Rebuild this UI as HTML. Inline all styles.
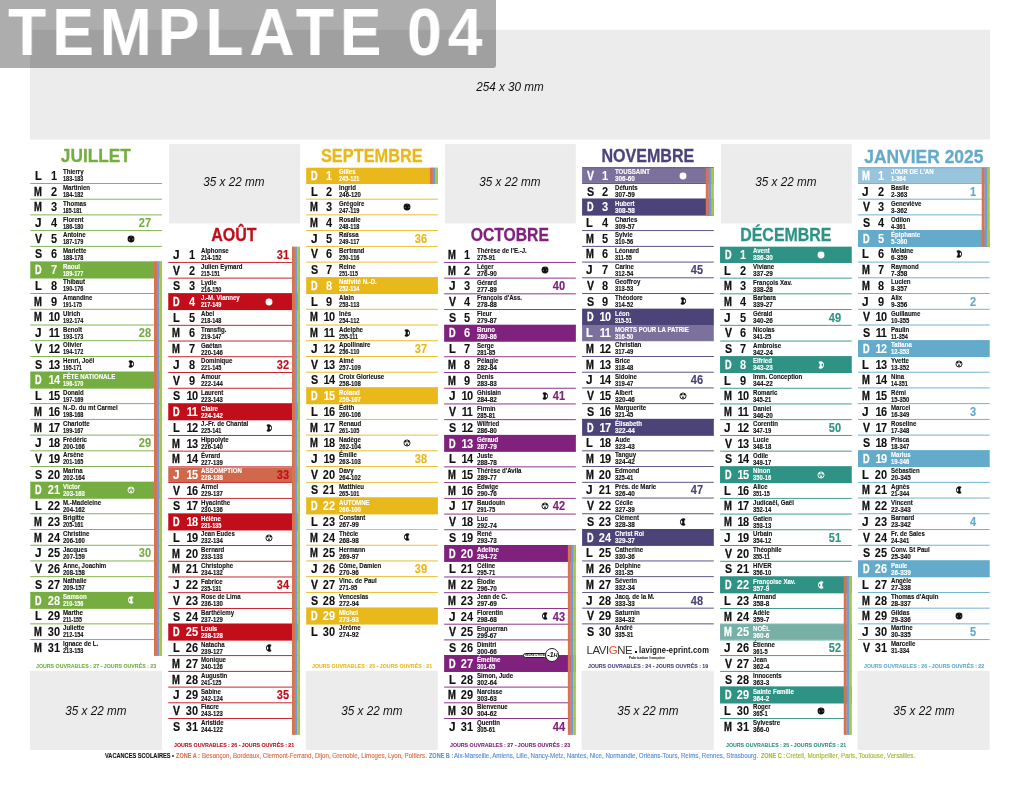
<!DOCTYPE html>
<html lang="fr"><head><meta charset="utf-8"><title>Template 04</title>
<style>
*{margin:0;padding:0;box-sizing:border-box}
html,body{width:1020px;height:786px;background:#fff;overflow:hidden}
body{position:relative;font-family:"Liberation Sans",sans-serif;color:#111}
#pg{position:absolute;left:0;top:0;width:1020px;height:786px;will-change:transform}
.g{position:absolute;background:#ececec}
.gl{position:absolute;font-style:italic;font-size:13px;line-height:14px;transform:scaleX(.9);text-align:center;color:#111;white-space:nowrap}
.m{position:absolute;width:131.7px}
.mt{position:absolute;left:-20px;width:171.7px;text-align:center;font-weight:bold;font-size:18.75px;line-height:20px;white-space:nowrap;transform:scaleX(.92);-webkit-text-stroke:.3px currentColor}
.r{position:absolute;left:0;width:131.7px;height:15.73px}
.ln{position:absolute;left:0;width:131.7px;height:1px}
.fl{position:absolute;left:0;width:131.7px}
.d,.n,.w{position:absolute;top:1.15px;width:24px;text-align:center;font-weight:bold;font-size:13.1px;line-height:14px;transform:scaleX(0.84);white-space:nowrap;-webkit-text-stroke:.15px currentColor}
.d{text-align:left;transform-origin:0 0}
.n{left:11.3px;-webkit-text-stroke-width:.05px}
.w{left:102.7px}
.t{position:absolute;left:32.6px;top:0.62px;font-weight:bold;font-size:7.0px;line-height:7px;white-space:nowrap;transform-origin:0 0;transform:scaleX(0.868);-webkit-text-stroke:.12px currentColor}
.t i{font-style:normal;display:block;transform-origin:0 0;transform:scaleX(0.96)}
.x{color:#fff}
.mo{position:absolute;left:97.2px;top:3.9px;width:8px;height:8px;overflow:visible}
.s1,.s2,.s3{position:absolute}
.s1{left:123.7px;width:2.9px;background:#dc714b}
.s2{left:126.6px;width:2.4px;background:#6a9ddb}
.s3{left:129px;width:2.7px;background:#aec63f}
.ft{position:absolute;font-weight:bold;font-size:6px;line-height:7px;white-space:nowrap;transform-origin:0 0;-webkit-text-stroke:.1px currentColor}
</style></head><body><div id="pg">
<svg width="0" height="0" style="position:absolute"><defs>
<symbol id="mn" viewBox="-4 -4 8 8"><circle r="3.45" fill="currentColor"/><ellipse cx="-1.7" cy=".4" rx=".45" ry=".9" fill="#fff" opacity=".45"/><ellipse cx="1.9" cy=".2" rx=".45" ry=".9" fill="#fff" opacity=".45"/><path d="M-.3-3.2L.6-3.2L.2-1.2Z" fill="#fff" opacity=".35"/></symbol>
<symbol id="mo" viewBox="-4 -4 8 8"><circle r="3.05" fill="none" stroke="currentColor" stroke-width=".9"/><circle cx="-1.3" cy="-1.5" r=".95" fill="currentColor"/><circle cx="1.4" cy="-1.5" r=".95" fill="currentColor"/><path d="M-.5,0.2L.5,.2L1.4,2.6L-1.4,2.6Z" fill="currentColor" opacity=".8"/></symbol>
<symbol id="mf" viewBox="-4 -4 8 8"><path fill-rule="evenodd" d="M-2.6-3.1A3.65 3.65 0 1 1-2.6 3.1Q.2 0-2.6-3.1ZM1.45-1.6A.8 1.6 0 1 0 1.45 1.6A.8 1.6 0 1 0 1.45-1.6Z" fill="currentColor"/></symbol>
<symbol id="ml" viewBox="-4 -4 8 8"><path fill-rule="evenodd" d="M2.6-3.1A3.65 3.65 0 1 0 2.6 3.1Q-.2 0 2.6-3.1ZM-1.45-1.6A.8 1.6 0 1 1-1.45 1.6A.8 1.6 0 1 1-1.45-1.6Z" fill="currentColor"/></symbol>
</defs></svg>
<svg width="1020" height="786" viewBox="0 0 1020 786" style="position:absolute;left:0;top:0"><rect x="30" y="29.8" width="960.1" height="109.7" fill="#ececec"/><rect x="29.9" y="670.8" width="132" height="79.1" fill="#ececec"/><rect x="30.3" y="182.98" width="131.7" height="0.9" fill="#76ad40"/><rect x="30.3" y="198.71" width="131.7" height="0.9" fill="#76ad40"/><rect x="30.3" y="214.44" width="131.7" height="0.9" fill="#76ad40"/><rect x="30.3" y="230.17" width="131.7" height="0.9" fill="#76ad40"/><rect x="30.3" y="245.9" width="131.7" height="0.9" fill="#76ad40"/><rect x="30.3" y="261.63" width="131.7" height="0.9" fill="#76ad40"/><rect x="30.3" y="277.36" width="131.7" height="0.9" fill="#76ad40"/><rect x="30.3" y="293.09" width="131.7" height="0.9" fill="#76ad40"/><rect x="30.3" y="308.82" width="131.7" height="0.9" fill="#76ad40"/><rect x="30.3" y="324.55" width="131.7" height="0.9" fill="#76ad40"/><rect x="30.3" y="340.28" width="131.7" height="0.9" fill="#76ad40"/><rect x="30.3" y="356.01" width="131.7" height="0.9" fill="#76ad40"/><rect x="30.3" y="371.74" width="131.7" height="0.9" fill="#76ad40"/><rect x="30.3" y="387.47" width="131.7" height="0.9" fill="#76ad40"/><rect x="30.3" y="403.2" width="131.7" height="0.9" fill="#76ad40"/><rect x="30.3" y="418.93" width="131.7" height="0.9" fill="#76ad40"/><rect x="30.3" y="434.66" width="131.7" height="0.9" fill="#76ad40"/><rect x="30.3" y="450.39" width="131.7" height="0.9" fill="#76ad40"/><rect x="30.3" y="466.12" width="131.7" height="0.9" fill="#76ad40"/><rect x="30.3" y="481.85" width="131.7" height="0.9" fill="#76ad40"/><rect x="30.3" y="497.58" width="131.7" height="0.9" fill="#76ad40"/><rect x="30.3" y="513.31" width="131.7" height="0.9" fill="#76ad40"/><rect x="30.3" y="529.04" width="131.7" height="0.9" fill="#76ad40"/><rect x="30.3" y="544.77" width="131.7" height="0.9" fill="#76ad40"/><rect x="30.3" y="560.5" width="131.7" height="0.9" fill="#76ad40"/><rect x="30.3" y="576.23" width="131.7" height="0.9" fill="#76ad40"/><rect x="30.3" y="591.96" width="131.7" height="0.9" fill="#76ad40"/><rect x="30.3" y="607.69" width="131.7" height="0.9" fill="#76ad40"/><rect x="30.3" y="623.42" width="131.7" height="0.9" fill="#76ad40"/><rect x="30.3" y="639.15" width="131.7" height="0.9" fill="#76ad40"/><rect x="30.3" y="261.58" width="131.7" height="16.73" fill="#76ad40"/><rect x="30.3" y="371.69" width="131.7" height="16.73" fill="#76ad40"/><rect x="30.3" y="481.8" width="131.7" height="16.73" fill="#76ad40"/><rect x="30.3" y="591.91" width="131.7" height="16.73" fill="#76ad40"/><rect x="154" y="261.58" width="3" height="394.35" fill="#dc714b"/><rect x="156.9" y="261.58" width="2.5" height="394.35" fill="#6a9ddb"/><rect x="159.3" y="261.58" width="2.75" height="394.35" fill="#aec63f"/><rect x="169.15" y="144.1" width="130.75" height="79.3" fill="#ececec"/><rect x="168.25" y="261.93" width="131.7" height="0.9" fill="#c20e1a"/><rect x="168.25" y="277.66" width="131.7" height="0.9" fill="#c20e1a"/><rect x="168.25" y="293.39" width="131.7" height="0.9" fill="#c20e1a"/><rect x="168.25" y="309.12" width="131.7" height="0.9" fill="#c20e1a"/><rect x="168.25" y="324.85" width="131.7" height="0.9" fill="#c20e1a"/><rect x="168.25" y="340.58" width="131.7" height="0.9" fill="#c20e1a"/><rect x="168.25" y="356.31" width="131.7" height="0.9" fill="#c20e1a"/><rect x="168.25" y="372.04" width="131.7" height="0.9" fill="#c20e1a"/><rect x="168.25" y="387.77" width="131.7" height="0.9" fill="#c20e1a"/><rect x="168.25" y="403.5" width="131.7" height="0.9" fill="#c20e1a"/><rect x="168.25" y="419.23" width="131.7" height="0.9" fill="#c20e1a"/><rect x="168.25" y="434.96" width="131.7" height="0.9" fill="#c20e1a"/><rect x="168.25" y="450.69" width="131.7" height="0.9" fill="#c20e1a"/><rect x="168.25" y="466.42" width="131.7" height="0.9" fill="#c20e1a"/><rect x="168.25" y="482.15" width="131.7" height="0.9" fill="#c20e1a"/><rect x="168.25" y="497.88" width="131.7" height="0.9" fill="#c20e1a"/><rect x="168.25" y="513.61" width="131.7" height="0.9" fill="#c20e1a"/><rect x="168.25" y="529.34" width="131.7" height="0.9" fill="#c20e1a"/><rect x="168.25" y="545.07" width="131.7" height="0.9" fill="#c20e1a"/><rect x="168.25" y="560.8" width="131.7" height="0.9" fill="#c20e1a"/><rect x="168.25" y="576.53" width="131.7" height="0.9" fill="#c20e1a"/><rect x="168.25" y="592.26" width="131.7" height="0.9" fill="#c20e1a"/><rect x="168.25" y="607.99" width="131.7" height="0.9" fill="#c20e1a"/><rect x="168.25" y="623.72" width="131.7" height="0.9" fill="#c20e1a"/><rect x="168.25" y="639.45" width="131.7" height="0.9" fill="#c20e1a"/><rect x="168.25" y="655.18" width="131.7" height="0.9" fill="#c20e1a"/><rect x="168.25" y="670.91" width="131.7" height="0.9" fill="#c20e1a"/><rect x="168.25" y="686.64" width="131.7" height="0.9" fill="#c20e1a"/><rect x="168.25" y="702.37" width="131.7" height="0.9" fill="#c20e1a"/><rect x="168.25" y="718.1" width="131.7" height="0.9" fill="#c20e1a"/><rect x="168.25" y="293.34" width="131.7" height="16.73" fill="#c20e1a"/><rect x="168.25" y="403.45" width="131.7" height="16.73" fill="#c20e1a"/><rect x="168.25" y="467.37" width="131.7" height="14.73" fill="#d0694c"/><rect x="168.25" y="513.56" width="131.7" height="16.73" fill="#c20e1a"/><rect x="168.25" y="623.67" width="131.7" height="16.73" fill="#c20e1a"/><rect x="291.95" y="246.65" width="3" height="488.23" fill="#dc714b"/><rect x="294.85" y="246.65" width="2.5" height="488.23" fill="#6a9ddb"/><rect x="297.25" y="246.65" width="2.75" height="488.23" fill="#aec63f"/><rect x="305.8" y="670.8" width="132" height="79.1" fill="#ececec"/><rect x="306.2" y="182.98" width="131.7" height="0.9" fill="#e9b81b"/><rect x="306.2" y="198.71" width="131.7" height="0.9" fill="#e9b81b"/><rect x="306.2" y="214.44" width="131.7" height="0.9" fill="#e9b81b"/><rect x="306.2" y="230.17" width="131.7" height="0.9" fill="#e9b81b"/><rect x="306.2" y="245.9" width="131.7" height="0.9" fill="#e9b81b"/><rect x="306.2" y="261.63" width="131.7" height="0.9" fill="#e9b81b"/><rect x="306.2" y="277.36" width="131.7" height="0.9" fill="#e9b81b"/><rect x="306.2" y="293.09" width="131.7" height="0.9" fill="#e9b81b"/><rect x="306.2" y="308.82" width="131.7" height="0.9" fill="#e9b81b"/><rect x="306.2" y="324.55" width="131.7" height="0.9" fill="#e9b81b"/><rect x="306.2" y="340.28" width="131.7" height="0.9" fill="#e9b81b"/><rect x="306.2" y="356.01" width="131.7" height="0.9" fill="#e9b81b"/><rect x="306.2" y="371.74" width="131.7" height="0.9" fill="#e9b81b"/><rect x="306.2" y="387.47" width="131.7" height="0.9" fill="#e9b81b"/><rect x="306.2" y="403.2" width="131.7" height="0.9" fill="#e9b81b"/><rect x="306.2" y="418.93" width="131.7" height="0.9" fill="#e9b81b"/><rect x="306.2" y="434.66" width="131.7" height="0.9" fill="#e9b81b"/><rect x="306.2" y="450.39" width="131.7" height="0.9" fill="#e9b81b"/><rect x="306.2" y="466.12" width="131.7" height="0.9" fill="#e9b81b"/><rect x="306.2" y="481.85" width="131.7" height="0.9" fill="#e9b81b"/><rect x="306.2" y="497.58" width="131.7" height="0.9" fill="#e9b81b"/><rect x="306.2" y="513.31" width="131.7" height="0.9" fill="#e9b81b"/><rect x="306.2" y="529.04" width="131.7" height="0.9" fill="#e9b81b"/><rect x="306.2" y="544.77" width="131.7" height="0.9" fill="#e9b81b"/><rect x="306.2" y="560.5" width="131.7" height="0.9" fill="#e9b81b"/><rect x="306.2" y="576.23" width="131.7" height="0.9" fill="#e9b81b"/><rect x="306.2" y="591.96" width="131.7" height="0.9" fill="#e9b81b"/><rect x="306.2" y="607.69" width="131.7" height="0.9" fill="#e9b81b"/><rect x="306.2" y="623.42" width="131.7" height="0.9" fill="#e9b81b"/><rect x="306.2" y="167.7" width="131.7" height="16.23" fill="#e9b81b"/><rect x="306.2" y="277.31" width="131.7" height="16.73" fill="#e9b81b"/><rect x="306.2" y="387.42" width="131.7" height="16.73" fill="#e9b81b"/><rect x="306.2" y="497.53" width="131.7" height="16.73" fill="#e9b81b"/><rect x="306.2" y="607.64" width="131.7" height="16.73" fill="#e9b81b"/><rect x="429.9" y="167.7" width="3" height="16.23" fill="#dc714b"/><rect x="432.8" y="167.7" width="2.5" height="16.23" fill="#6a9ddb"/><rect x="435.2" y="167.7" width="2.75" height="16.23" fill="#aec63f"/><rect x="445.05" y="144.1" width="130.75" height="79.3" fill="#ececec"/><rect x="444.15" y="261.93" width="131.7" height="0.9" fill="#80217d"/><rect x="444.15" y="277.66" width="131.7" height="0.9" fill="#80217d"/><rect x="444.15" y="293.39" width="131.7" height="0.9" fill="#80217d"/><rect x="444.15" y="309.12" width="131.7" height="0.9" fill="#80217d"/><rect x="444.15" y="324.85" width="131.7" height="0.9" fill="#80217d"/><rect x="444.15" y="340.58" width="131.7" height="0.9" fill="#80217d"/><rect x="444.15" y="356.31" width="131.7" height="0.9" fill="#80217d"/><rect x="444.15" y="372.04" width="131.7" height="0.9" fill="#80217d"/><rect x="444.15" y="387.77" width="131.7" height="0.9" fill="#80217d"/><rect x="444.15" y="403.5" width="131.7" height="0.9" fill="#80217d"/><rect x="444.15" y="419.23" width="131.7" height="0.9" fill="#80217d"/><rect x="444.15" y="434.96" width="131.7" height="0.9" fill="#80217d"/><rect x="444.15" y="450.69" width="131.7" height="0.9" fill="#80217d"/><rect x="444.15" y="466.42" width="131.7" height="0.9" fill="#80217d"/><rect x="444.15" y="482.15" width="131.7" height="0.9" fill="#80217d"/><rect x="444.15" y="497.88" width="131.7" height="0.9" fill="#80217d"/><rect x="444.15" y="513.61" width="131.7" height="0.9" fill="#80217d"/><rect x="444.15" y="529.34" width="131.7" height="0.9" fill="#80217d"/><rect x="444.15" y="545.07" width="131.7" height="0.9" fill="#80217d"/><rect x="444.15" y="560.8" width="131.7" height="0.9" fill="#80217d"/><rect x="444.15" y="576.53" width="131.7" height="0.9" fill="#80217d"/><rect x="444.15" y="592.26" width="131.7" height="0.9" fill="#80217d"/><rect x="444.15" y="607.99" width="131.7" height="0.9" fill="#80217d"/><rect x="444.15" y="623.72" width="131.7" height="0.9" fill="#80217d"/><rect x="444.15" y="639.45" width="131.7" height="0.9" fill="#80217d"/><rect x="444.15" y="655.18" width="131.7" height="0.9" fill="#80217d"/><rect x="444.15" y="670.91" width="131.7" height="0.9" fill="#80217d"/><rect x="444.15" y="686.64" width="131.7" height="0.9" fill="#80217d"/><rect x="444.15" y="702.37" width="131.7" height="0.9" fill="#80217d"/><rect x="444.15" y="718.1" width="131.7" height="0.9" fill="#80217d"/><rect x="444.15" y="324.8" width="131.7" height="16.73" fill="#80217d"/><rect x="444.15" y="434.91" width="131.7" height="16.73" fill="#80217d"/><rect x="444.15" y="545.02" width="131.7" height="16.73" fill="#80217d"/><rect x="444.15" y="655.13" width="131.7" height="16.73" fill="#80217d"/><rect x="567.85" y="545.02" width="3" height="189.86" fill="#dc714b"/><rect x="570.75" y="545.02" width="2.5" height="189.86" fill="#6a9ddb"/><rect x="573.15" y="545.02" width="2.75" height="189.86" fill="#aec63f"/><rect x="581.7" y="670.8" width="132" height="79.1" fill="#ececec"/><rect x="582.1" y="182.98" width="131.7" height="0.9" fill="#4c4379"/><rect x="582.1" y="198.71" width="131.7" height="0.9" fill="#4c4379"/><rect x="582.1" y="214.44" width="131.7" height="0.9" fill="#4c4379"/><rect x="582.1" y="230.17" width="131.7" height="0.9" fill="#4c4379"/><rect x="582.1" y="245.9" width="131.7" height="0.9" fill="#4c4379"/><rect x="582.1" y="261.63" width="131.7" height="0.9" fill="#4c4379"/><rect x="582.1" y="277.36" width="131.7" height="0.9" fill="#4c4379"/><rect x="582.1" y="293.09" width="131.7" height="0.9" fill="#4c4379"/><rect x="582.1" y="308.82" width="131.7" height="0.9" fill="#4c4379"/><rect x="582.1" y="324.55" width="131.7" height="0.9" fill="#4c4379"/><rect x="582.1" y="340.28" width="131.7" height="0.9" fill="#4c4379"/><rect x="582.1" y="356.01" width="131.7" height="0.9" fill="#4c4379"/><rect x="582.1" y="371.74" width="131.7" height="0.9" fill="#4c4379"/><rect x="582.1" y="387.47" width="131.7" height="0.9" fill="#4c4379"/><rect x="582.1" y="403.2" width="131.7" height="0.9" fill="#4c4379"/><rect x="582.1" y="418.93" width="131.7" height="0.9" fill="#4c4379"/><rect x="582.1" y="434.66" width="131.7" height="0.9" fill="#4c4379"/><rect x="582.1" y="450.39" width="131.7" height="0.9" fill="#4c4379"/><rect x="582.1" y="466.12" width="131.7" height="0.9" fill="#4c4379"/><rect x="582.1" y="481.85" width="131.7" height="0.9" fill="#4c4379"/><rect x="582.1" y="497.58" width="131.7" height="0.9" fill="#4c4379"/><rect x="582.1" y="513.31" width="131.7" height="0.9" fill="#4c4379"/><rect x="582.1" y="529.04" width="131.7" height="0.9" fill="#4c4379"/><rect x="582.1" y="544.77" width="131.7" height="0.9" fill="#4c4379"/><rect x="582.1" y="560.5" width="131.7" height="0.9" fill="#4c4379"/><rect x="582.1" y="576.23" width="131.7" height="0.9" fill="#4c4379"/><rect x="582.1" y="591.96" width="131.7" height="0.9" fill="#4c4379"/><rect x="582.1" y="607.69" width="131.7" height="0.9" fill="#4c4379"/><rect x="582.1" y="623.42" width="131.7" height="0.9" fill="#4c4379"/><rect x="582.1" y="167.7" width="131.7" height="15.23" fill="#7c719c"/><rect x="582.1" y="167.25" width="131.7" height="0.9" fill="#4c4379"/><rect x="582.1" y="198.66" width="131.7" height="16.73" fill="#4c4379"/><rect x="582.1" y="308.77" width="131.7" height="16.73" fill="#4c4379"/><rect x="582.1" y="325.5" width="131.7" height="14.73" fill="#7c719c"/><rect x="582.1" y="418.88" width="131.7" height="16.73" fill="#4c4379"/><rect x="582.1" y="528.99" width="131.7" height="16.73" fill="#4c4379"/><rect x="705.8" y="167.7" width="3" height="47.69" fill="#dc714b"/><rect x="708.7" y="167.7" width="2.5" height="47.69" fill="#6a9ddb"/><rect x="711.1" y="167.7" width="2.75" height="47.69" fill="#aec63f"/><rect x="720.95" y="144.1" width="130.75" height="79.3" fill="#ececec"/><rect x="720.05" y="261.93" width="131.7" height="0.9" fill="#2e9384"/><rect x="720.05" y="277.66" width="131.7" height="0.9" fill="#2e9384"/><rect x="720.05" y="293.39" width="131.7" height="0.9" fill="#2e9384"/><rect x="720.05" y="309.12" width="131.7" height="0.9" fill="#2e9384"/><rect x="720.05" y="324.85" width="131.7" height="0.9" fill="#2e9384"/><rect x="720.05" y="340.58" width="131.7" height="0.9" fill="#2e9384"/><rect x="720.05" y="356.31" width="131.7" height="0.9" fill="#2e9384"/><rect x="720.05" y="372.04" width="131.7" height="0.9" fill="#2e9384"/><rect x="720.05" y="387.77" width="131.7" height="0.9" fill="#2e9384"/><rect x="720.05" y="403.5" width="131.7" height="0.9" fill="#2e9384"/><rect x="720.05" y="419.23" width="131.7" height="0.9" fill="#2e9384"/><rect x="720.05" y="434.96" width="131.7" height="0.9" fill="#2e9384"/><rect x="720.05" y="450.69" width="131.7" height="0.9" fill="#2e9384"/><rect x="720.05" y="466.42" width="131.7" height="0.9" fill="#2e9384"/><rect x="720.05" y="482.15" width="131.7" height="0.9" fill="#2e9384"/><rect x="720.05" y="497.88" width="131.7" height="0.9" fill="#2e9384"/><rect x="720.05" y="513.61" width="131.7" height="0.9" fill="#2e9384"/><rect x="720.05" y="529.34" width="131.7" height="0.9" fill="#2e9384"/><rect x="720.05" y="545.07" width="131.7" height="0.9" fill="#2e9384"/><rect x="720.05" y="560.8" width="131.7" height="0.9" fill="#2e9384"/><rect x="720.05" y="576.53" width="131.7" height="0.9" fill="#2e9384"/><rect x="720.05" y="592.26" width="131.7" height="0.9" fill="#2e9384"/><rect x="720.05" y="607.99" width="131.7" height="0.9" fill="#2e9384"/><rect x="720.05" y="623.72" width="131.7" height="0.9" fill="#2e9384"/><rect x="720.05" y="639.45" width="131.7" height="0.9" fill="#2e9384"/><rect x="720.05" y="655.18" width="131.7" height="0.9" fill="#2e9384"/><rect x="720.05" y="670.91" width="131.7" height="0.9" fill="#2e9384"/><rect x="720.05" y="686.64" width="131.7" height="0.9" fill="#2e9384"/><rect x="720.05" y="702.37" width="131.7" height="0.9" fill="#2e9384"/><rect x="720.05" y="718.1" width="131.7" height="0.9" fill="#2e9384"/><rect x="720.05" y="246.65" width="131.7" height="16.23" fill="#2e9384"/><rect x="720.05" y="356.26" width="131.7" height="16.73" fill="#2e9384"/><rect x="720.05" y="466.37" width="131.7" height="16.73" fill="#2e9384"/><rect x="720.05" y="576.48" width="131.7" height="16.73" fill="#2e9384"/><rect x="720.05" y="624.67" width="131.7" height="14.73" fill="#78b0a8"/><rect x="720.05" y="686.59" width="131.7" height="16.73" fill="#2e9384"/><rect x="843.75" y="576.48" width="3" height="158.4" fill="#dc714b"/><rect x="846.65" y="576.48" width="2.5" height="158.4" fill="#6a9ddb"/><rect x="849.05" y="576.48" width="2.75" height="158.4" fill="#aec63f"/><rect x="857.6" y="670.8" width="132" height="79.1" fill="#ececec"/><rect x="858" y="182.98" width="131.7" height="0.9" fill="#64aacb"/><rect x="858" y="198.71" width="131.7" height="0.9" fill="#64aacb"/><rect x="858" y="214.44" width="131.7" height="0.9" fill="#64aacb"/><rect x="858" y="230.17" width="131.7" height="0.9" fill="#64aacb"/><rect x="858" y="245.9" width="131.7" height="0.9" fill="#64aacb"/><rect x="858" y="261.63" width="131.7" height="0.9" fill="#64aacb"/><rect x="858" y="277.36" width="131.7" height="0.9" fill="#64aacb"/><rect x="858" y="293.09" width="131.7" height="0.9" fill="#64aacb"/><rect x="858" y="308.82" width="131.7" height="0.9" fill="#64aacb"/><rect x="858" y="324.55" width="131.7" height="0.9" fill="#64aacb"/><rect x="858" y="340.28" width="131.7" height="0.9" fill="#64aacb"/><rect x="858" y="356.01" width="131.7" height="0.9" fill="#64aacb"/><rect x="858" y="371.74" width="131.7" height="0.9" fill="#64aacb"/><rect x="858" y="387.47" width="131.7" height="0.9" fill="#64aacb"/><rect x="858" y="403.2" width="131.7" height="0.9" fill="#64aacb"/><rect x="858" y="418.93" width="131.7" height="0.9" fill="#64aacb"/><rect x="858" y="434.66" width="131.7" height="0.9" fill="#64aacb"/><rect x="858" y="450.39" width="131.7" height="0.9" fill="#64aacb"/><rect x="858" y="466.12" width="131.7" height="0.9" fill="#64aacb"/><rect x="858" y="481.85" width="131.7" height="0.9" fill="#64aacb"/><rect x="858" y="497.58" width="131.7" height="0.9" fill="#64aacb"/><rect x="858" y="513.31" width="131.7" height="0.9" fill="#64aacb"/><rect x="858" y="529.04" width="131.7" height="0.9" fill="#64aacb"/><rect x="858" y="544.77" width="131.7" height="0.9" fill="#64aacb"/><rect x="858" y="560.5" width="131.7" height="0.9" fill="#64aacb"/><rect x="858" y="576.23" width="131.7" height="0.9" fill="#64aacb"/><rect x="858" y="591.96" width="131.7" height="0.9" fill="#64aacb"/><rect x="858" y="607.69" width="131.7" height="0.9" fill="#64aacb"/><rect x="858" y="623.42" width="131.7" height="0.9" fill="#64aacb"/><rect x="858" y="639.15" width="131.7" height="0.9" fill="#64aacb"/><rect x="858" y="167.7" width="131.7" height="15.23" fill="#98c4dc"/><rect x="858" y="167.25" width="131.7" height="0.9" fill="#64aacb"/><rect x="858" y="230.12" width="131.7" height="16.73" fill="#64aacb"/><rect x="858" y="340.23" width="131.7" height="16.73" fill="#64aacb"/><rect x="858" y="450.34" width="131.7" height="16.73" fill="#64aacb"/><rect x="858" y="560.45" width="131.7" height="16.73" fill="#64aacb"/><rect x="981.7" y="167.7" width="3" height="79.15" fill="#dc714b"/><rect x="984.6" y="167.7" width="2.5" height="79.15" fill="#6a9ddb"/><rect x="987" y="167.7" width="2.75" height="79.15" fill="#aec63f"/></svg>
<div class="gl" style="left:410px;top:80.2px;width:200px">254 x 30 mm</div>
<div id="tpl" style="position:absolute;left:0;top:0;width:496px;height:67.5px;background:rgba(0,0,0,.32);border-bottom-right-radius:3px"></div>
<div id="tplt" style="position:absolute;left:7.5px;top:-5px;font-weight:bold;font-size:67.3px;line-height:74px;color:#fff;white-space:nowrap;letter-spacing:6.3px;word-spacing:-4px;transform-origin:0 0;transform:scaleX(.93)">TEMPLATE 04</div>
<div class="m" style="left:30.3px;top:0">
<div class="gl" style="left:0;top:704.1px;width:131.7px">35 x 22 mm</div>
<div class="mt" style="top:145.7px;color:#76ad40;transform:scaleX(0.92)">JUILLET</div>
<div class="r" style="top:167.7px">
<div class="d" style="left:4.4px;transform:scaleX(0.85);-webkit-text-stroke-width:0.2px">L</div><div class="n">1</div>
<div class="t" style="top:0.3px">Thierry<i style="transform:scaleX(0.915)">183-183</i></div>
</div>
<div class="r" style="top:183.43px">
<div class="d" style="left:3.7px;transform:scaleX(0.72);-webkit-text-stroke-width:0.4px">M</div><div class="n">2</div>
<div class="t" style="top:0.57px">Martinien<i style="transform:scaleX(0.915)">184-182</i></div>
</div>
<div class="r" style="top:199.16px">
<div class="d" style="left:3.7px;transform:scaleX(0.72);-webkit-text-stroke-width:0.4px">M</div><div class="n">3</div>
<div class="t" style="top:0.84px">Thomas<i style="transform:scaleX(0.845)">185-181</i></div>
</div>
<div class="r" style="top:214.89px">
<div class="d" style="left:4.4px;transform:scaleX(0.9);-webkit-text-stroke-width:0.2px">J</div><div class="n">4</div>
<div class="t" style="top:1.11px">Florent<i style="transform:scaleX(0.915)">186-180</i></div>
<div class="w" style="color:#76ad40">27</div>
</div>
<div class="r" style="top:230.62px">
<div class="d" style="left:4.6px;transform:scaleX(0.8);-webkit-text-stroke-width:0.3px">V</div><div class="n">5</div>
<div class="t" style="top:0.38px">Antoine<i style="transform:scaleX(0.915)">187-179</i></div>
<svg class="mo" style="color:#111"><use href="#mn"/></svg>
</div>
<div class="r" style="top:246.35px">
<div class="d" style="left:4.6px;transform:scaleX(0.82);-webkit-text-stroke-width:0.2px">S</div><div class="n">6</div>
<div class="t" style="top:0.65px">Mariette<i style="transform:scaleX(0.915)">188-178</i></div>
</div>
<div class="r" style="top:262.08px">
<div class="d x" style="left:4.7px;transform:scaleX(0.7);-webkit-text-stroke-width:0.3px">D</div><div class="n x">7</div>
<div class="t x" style="top:0.92px">Raoul<i style="transform:scaleX(0.915)">189-177</i></div>
</div>
<div class="r" style="top:277.81px">
<div class="d" style="left:4.4px;transform:scaleX(0.85);-webkit-text-stroke-width:0.2px">L</div><div class="n">8</div>
<div class="t" style="top:0.19px">Thibaut<i style="transform:scaleX(0.915)">190-176</i></div>
</div>
<div class="r" style="top:293.54px">
<div class="d" style="left:3.7px;transform:scaleX(0.72);-webkit-text-stroke-width:0.4px">M</div><div class="n">9</div>
<div class="t" style="top:0.46px">Amandine<i style="transform:scaleX(0.845)">191-175</i></div>
</div>
<div class="r" style="top:309.27px">
<div class="d" style="left:3.7px;transform:scaleX(0.72);-webkit-text-stroke-width:0.4px">M</div><div class="n" style="letter-spacing:-.6px">10</div>
<div class="t" style="top:0.73px">Ulrich<i style="transform:scaleX(0.915)">192-174</i></div>
</div>
<div class="r" style="top:325px">
<div class="d" style="left:4.4px;transform:scaleX(0.9);-webkit-text-stroke-width:0.2px">J</div><div class="n" style="letter-spacing:-.6px">11</div>
<div class="t" style="top:1px">Benoît<i style="transform:scaleX(0.915)">193-173</i></div>
<div class="w" style="color:#76ad40">28</div>
</div>
<div class="r" style="top:340.73px">
<div class="d" style="left:4.6px;transform:scaleX(0.8);-webkit-text-stroke-width:0.3px">V</div><div class="n" style="letter-spacing:-.6px">12</div>
<div class="t" style="top:0.27px">Olivier<i style="transform:scaleX(0.915)">194-172</i></div>
</div>
<div class="r" style="top:356.46px">
<div class="d" style="left:4.6px;transform:scaleX(0.82);-webkit-text-stroke-width:0.2px">S</div><div class="n" style="letter-spacing:-.6px">13</div>
<div class="t" style="top:0.54px">Henri, Joël<i style="transform:scaleX(0.845)">195-171</i></div>
<svg class="mo" style="color:#111"><use href="#mf"/></svg>
</div>
<div class="r" style="top:372.19px">
<div class="d x" style="left:4.7px;transform:scaleX(0.7);-webkit-text-stroke-width:0.3px">D</div><div class="n x" style="letter-spacing:-.6px">14</div>
<div class="t x" style="top:0.81px">FÊTE NATIONALE<i style="transform:scaleX(0.915)">196-170</i></div>
</div>
<div class="r" style="top:387.92px">
<div class="d" style="left:4.4px;transform:scaleX(0.85);-webkit-text-stroke-width:0.2px">L</div><div class="n" style="letter-spacing:-.6px">15</div>
<div class="t" style="top:1.08px">Donald<i style="transform:scaleX(0.915)">197-169</i></div>
</div>
<div class="r" style="top:403.65px">
<div class="d" style="left:3.7px;transform:scaleX(0.72);-webkit-text-stroke-width:0.4px">M</div><div class="n" style="letter-spacing:-.6px">16</div>
<div class="t" style="top:0.35px">N.-D. du mt Carmel<i style="transform:scaleX(0.915)">198-168</i></div>
</div>
<div class="r" style="top:419.38px">
<div class="d" style="left:3.7px;transform:scaleX(0.72);-webkit-text-stroke-width:0.4px">M</div><div class="n" style="letter-spacing:-.6px">17</div>
<div class="t" style="top:0.62px">Charlotte<i style="transform:scaleX(0.915)">199-167</i></div>
</div>
<div class="r" style="top:435.11px">
<div class="d" style="left:4.4px;transform:scaleX(0.9);-webkit-text-stroke-width:0.2px">J</div><div class="n" style="letter-spacing:-.6px">18</div>
<div class="t" style="top:0.89px">Frédéric<i style="transform:scaleX(0.984)">200-166</i></div>
<div class="w" style="color:#76ad40">29</div>
</div>
<div class="r" style="top:450.84px">
<div class="d" style="left:4.6px;transform:scaleX(0.8);-webkit-text-stroke-width:0.3px">V</div><div class="n" style="letter-spacing:-.6px">19</div>
<div class="t" style="top:0.16px">Arsène<i style="transform:scaleX(0.915)">201-165</i></div>
</div>
<div class="r" style="top:466.57px">
<div class="d" style="left:4.6px;transform:scaleX(0.82);-webkit-text-stroke-width:0.2px">S</div><div class="n">20</div>
<div class="t" style="top:0.43px">Marina<i style="transform:scaleX(0.984)">202-164</i></div>
</div>
<div class="r" style="top:482.3px">
<div class="d x" style="left:4.7px;transform:scaleX(0.7);-webkit-text-stroke-width:0.3px">D</div><div class="n x">21</div>
<div class="t x" style="top:0.7px">Victor<i style="transform:scaleX(0.984)">203-163</i></div>
<svg class="mo" style="color:#fff"><use href="#mo"/></svg>
</div>
<div class="r" style="top:498.03px">
<div class="d" style="left:4.4px;transform:scaleX(0.85);-webkit-text-stroke-width:0.2px">L</div><div class="n">22</div>
<div class="t" style="top:0.97px">M.-Madeleine<i style="transform:scaleX(0.984)">204-162</i></div>
</div>
<div class="r" style="top:513.76px">
<div class="d" style="left:3.7px;transform:scaleX(0.72);-webkit-text-stroke-width:0.4px">M</div><div class="n">23</div>
<div class="t" style="top:0.24px">Brigitte<i style="transform:scaleX(0.915)">205-161</i></div>
</div>
<div class="r" style="top:529.49px">
<div class="d" style="left:3.7px;transform:scaleX(0.72);-webkit-text-stroke-width:0.4px">M</div><div class="n">24</div>
<div class="t" style="top:0.51px">Christine<i style="transform:scaleX(0.984)">206-160</i></div>
</div>
<div class="r" style="top:545.22px">
<div class="d" style="left:4.4px;transform:scaleX(0.9);-webkit-text-stroke-width:0.2px">J</div><div class="n">25</div>
<div class="t" style="top:0.78px">Jacques<i style="transform:scaleX(0.984)">207-159</i></div>
<div class="w" style="color:#76ad40">30</div>
</div>
<div class="r" style="top:560.95px">
<div class="d" style="left:4.6px;transform:scaleX(0.8);-webkit-text-stroke-width:0.3px">V</div><div class="n">26</div>
<div class="t" style="top:1.05px">Anne, Joachim<i style="transform:scaleX(0.984)">208-158</i></div>
</div>
<div class="r" style="top:576.68px">
<div class="d" style="left:4.6px;transform:scaleX(0.82);-webkit-text-stroke-width:0.2px">S</div><div class="n">27</div>
<div class="t" style="top:0.32px">Nathalie<i style="transform:scaleX(0.984)">209-157</i></div>
</div>
<div class="r" style="top:592.41px">
<div class="d x" style="left:4.7px;transform:scaleX(0.7);-webkit-text-stroke-width:0.3px">D</div><div class="n x">28</div>
<div class="t x" style="top:0.59px">Samson<i style="transform:scaleX(0.915)">210-156</i></div>
<svg class="mo" style="color:#fff"><use href="#ml"/></svg>
</div>
<div class="r" style="top:608.14px">
<div class="d" style="left:4.4px;transform:scaleX(0.85);-webkit-text-stroke-width:0.2px">L</div><div class="n">29</div>
<div class="t" style="top:0.86px">Marthe<i style="transform:scaleX(0.858)">211-155</i></div>
</div>
<div class="r" style="top:623.87px">
<div class="d" style="left:3.7px;transform:scaleX(0.72);-webkit-text-stroke-width:0.4px">M</div><div class="n">30</div>
<div class="t" style="top:0.13px">Juliette<i style="transform:scaleX(0.915)">212-154</i></div>
</div>
<div class="r" style="top:639.6px">
<div class="d" style="left:3.7px;transform:scaleX(0.72);-webkit-text-stroke-width:0.4px">M</div><div class="n">31</div>
<div class="t" style="top:0.4px">Ignace de L.<i style="transform:scaleX(0.915)">213-153</i></div>
</div>
<div class="ft" style="left:6px;top:663px;color:#76ad40;transform:scaleX(0.8772)">JOURS OUVRABLES : 27 - JOURS OUVRÉS : 23</div>
</div>
<div class="m" style="left:168.25px;top:0">
<div class="gl" style="left:0;top:175px;width:131.7px">35 x 22 mm</div>
<div class="mt" style="top:224.65px;color:#c20e1a;transform:scaleX(0.854)">AOÛT</div>
<div class="r" style="top:246.65px">
<div class="d" style="left:4.4px;transform:scaleX(0.9);-webkit-text-stroke-width:0.2px">J</div><div class="n">1</div>
<div class="t" style="top:0.35px">Alphonse<i style="transform:scaleX(0.915)">214-152</i></div>
<div class="w" style="color:#c20e1a">31</div>
</div>
<div class="r" style="top:262.38px">
<div class="d" style="left:4.6px;transform:scaleX(0.8);-webkit-text-stroke-width:0.3px">V</div><div class="n">2</div>
<div class="t" style="top:0.62px">Julien Eymard<i style="transform:scaleX(0.845)">215-151</i></div>
</div>
<div class="r" style="top:278.11px">
<div class="d" style="left:4.6px;transform:scaleX(0.82);-webkit-text-stroke-width:0.2px">S</div><div class="n">3</div>
<div class="t" style="top:0.89px">Lydie<i style="transform:scaleX(0.915)">216-150</i></div>
</div>
<div class="r" style="top:293.84px">
<div class="d x" style="left:4.7px;transform:scaleX(0.7);-webkit-text-stroke-width:0.3px">D</div><div class="n x">4</div>
<div class="t x" style="top:0.16px">J.-M. Vianney<i style="transform:scaleX(0.915)">217-149</i></div>
<svg class="mo" style="color:#fff"><use href="#mn"/></svg>
</div>
<div class="r" style="top:309.57px">
<div class="d" style="left:4.4px;transform:scaleX(0.85);-webkit-text-stroke-width:0.2px">L</div><div class="n">5</div>
<div class="t" style="top:0.43px">Abel<i style="transform:scaleX(0.915)">218-148</i></div>
</div>
<div class="r" style="top:325.3px">
<div class="d" style="left:3.7px;transform:scaleX(0.72);-webkit-text-stroke-width:0.4px">M</div><div class="n">6</div>
<div class="t" style="top:0.7px">Transfig.<i style="transform:scaleX(0.915)">219-147</i></div>
</div>
<div class="r" style="top:341.03px">
<div class="d" style="left:3.7px;transform:scaleX(0.72);-webkit-text-stroke-width:0.4px">M</div><div class="n">7</div>
<div class="t" style="top:0.97px">Gaétan<i style="transform:scaleX(0.984)">220-146</i></div>
</div>
<div class="r" style="top:356.76px">
<div class="d" style="left:4.4px;transform:scaleX(0.9);-webkit-text-stroke-width:0.2px">J</div><div class="n">8</div>
<div class="t" style="top:0.24px">Dominique<i style="transform:scaleX(0.915)">221-145</i></div>
<div class="w" style="color:#c20e1a">32</div>
</div>
<div class="r" style="top:372.49px">
<div class="d" style="left:4.6px;transform:scaleX(0.8);-webkit-text-stroke-width:0.3px">V</div><div class="n">9</div>
<div class="t" style="top:0.51px">Amour<i style="transform:scaleX(0.984)">222-144</i></div>
</div>
<div class="r" style="top:388.22px">
<div class="d" style="left:4.6px;transform:scaleX(0.82);-webkit-text-stroke-width:0.2px">S</div><div class="n" style="letter-spacing:-.6px">10</div>
<div class="t" style="top:0.78px">Laurent<i style="transform:scaleX(0.984)">223-143</i></div>
</div>
<div class="r" style="top:403.95px">
<div class="d x" style="left:4.7px;transform:scaleX(0.7);-webkit-text-stroke-width:0.3px">D</div><div class="n x" style="letter-spacing:-.6px">11</div>
<div class="t x" style="top:1.05px">Claire<i style="transform:scaleX(0.984)">224-142</i></div>
</div>
<div class="r" style="top:419.68px">
<div class="d" style="left:4.4px;transform:scaleX(0.85);-webkit-text-stroke-width:0.2px">L</div><div class="n" style="letter-spacing:-.6px">12</div>
<div class="t" style="top:0.32px">J.-Fr. de Chantal<i style="transform:scaleX(0.915)">225-141</i></div>
<svg class="mo" style="color:#111"><use href="#mf"/></svg>
</div>
<div class="r" style="top:435.41px">
<div class="d" style="left:3.7px;transform:scaleX(0.72);-webkit-text-stroke-width:0.4px">M</div><div class="n" style="letter-spacing:-.6px">13</div>
<div class="t" style="top:0.59px">Hippolyte<i style="transform:scaleX(0.984)">226-140</i></div>
</div>
<div class="r" style="top:451.14px">
<div class="d" style="left:3.7px;transform:scaleX(0.72);-webkit-text-stroke-width:0.4px">M</div><div class="n" style="letter-spacing:-.6px">14</div>
<div class="t" style="top:0.86px">Évrard<i style="transform:scaleX(0.984)">227-139</i></div>
</div>
<div class="r" style="top:466.87px">
<div class="d x" style="left:4.4px;transform:scaleX(0.9);-webkit-text-stroke-width:0.2px">J</div><div class="n x" style="letter-spacing:-.6px">15</div>
<div class="t x" style="top:0.13px">ASSOMPTION<i style="transform:scaleX(0.984)">228-138</i></div>
<div class="w" style="color:#c20e1a">33</div>
</div>
<div class="r" style="top:482.6px">
<div class="d" style="left:4.6px;transform:scaleX(0.8);-webkit-text-stroke-width:0.3px">V</div><div class="n" style="letter-spacing:-.6px">16</div>
<div class="t" style="top:0.4px">Armel<i style="transform:scaleX(0.984)">229-137</i></div>
</div>
<div class="r" style="top:498.33px">
<div class="d" style="left:4.6px;transform:scaleX(0.82);-webkit-text-stroke-width:0.2px">S</div><div class="n" style="letter-spacing:-.6px">17</div>
<div class="t" style="top:0.67px">Hyacinthe<i style="transform:scaleX(0.984)">230-136</i></div>
</div>
<div class="r" style="top:514.06px">
<div class="d x" style="left:4.7px;transform:scaleX(0.7);-webkit-text-stroke-width:0.3px">D</div><div class="n x" style="letter-spacing:-.6px">18</div>
<div class="t x" style="top:0.94px">Hélène<i style="transform:scaleX(0.915)">231-135</i></div>
</div>
<div class="r" style="top:529.79px">
<div class="d" style="left:4.4px;transform:scaleX(0.85);-webkit-text-stroke-width:0.2px">L</div><div class="n" style="letter-spacing:-.6px">19</div>
<div class="t" style="top:0.21px">Jean Eudes<i style="transform:scaleX(0.984)">232-134</i></div>
<svg class="mo" style="color:#111"><use href="#mo"/></svg>
</div>
<div class="r" style="top:545.52px">
<div class="d" style="left:3.7px;transform:scaleX(0.72);-webkit-text-stroke-width:0.4px">M</div><div class="n">20</div>
<div class="t" style="top:0.48px">Bernard<i style="transform:scaleX(0.984)">233-133</i></div>
</div>
<div class="r" style="top:561.25px">
<div class="d" style="left:3.7px;transform:scaleX(0.72);-webkit-text-stroke-width:0.4px">M</div><div class="n">21</div>
<div class="t" style="top:0.75px">Christophe<i style="transform:scaleX(0.984)">234-132</i></div>
</div>
<div class="r" style="top:576.98px">
<div class="d" style="left:4.4px;transform:scaleX(0.9);-webkit-text-stroke-width:0.2px">J</div><div class="n">22</div>
<div class="t" style="top:1.02px">Fabrice<i style="transform:scaleX(0.915)">235-131</i></div>
<div class="w" style="color:#c20e1a">34</div>
</div>
<div class="r" style="top:592.71px">
<div class="d" style="left:4.6px;transform:scaleX(0.8);-webkit-text-stroke-width:0.3px">V</div><div class="n">23</div>
<div class="t" style="top:0.29px">Rose de Lima<i style="transform:scaleX(0.984)">236-130</i></div>
</div>
<div class="r" style="top:608.44px">
<div class="d" style="left:4.6px;transform:scaleX(0.82);-webkit-text-stroke-width:0.2px">S</div><div class="n">24</div>
<div class="t" style="top:0.56px">Barthélemy<i style="transform:scaleX(0.984)">237-129</i></div>
</div>
<div class="r" style="top:624.17px">
<div class="d x" style="left:4.7px;transform:scaleX(0.7);-webkit-text-stroke-width:0.3px">D</div><div class="n x">25</div>
<div class="t x" style="top:0.83px">Louis<i style="transform:scaleX(0.984)">238-128</i></div>
</div>
<div class="r" style="top:639.9px">
<div class="d" style="left:4.4px;transform:scaleX(0.85);-webkit-text-stroke-width:0.2px">L</div><div class="n">26</div>
<div class="t" style="top:1.1px">Natacha<i style="transform:scaleX(0.984)">239-127</i></div>
<svg class="mo" style="color:#111"><use href="#ml"/></svg>
</div>
<div class="r" style="top:655.63px">
<div class="d" style="left:3.7px;transform:scaleX(0.72);-webkit-text-stroke-width:0.4px">M</div><div class="n">27</div>
<div class="t" style="top:0.37px">Monique<i style="transform:scaleX(0.984)">240-126</i></div>
</div>
<div class="r" style="top:671.36px">
<div class="d" style="left:3.7px;transform:scaleX(0.72);-webkit-text-stroke-width:0.4px">M</div><div class="n">28</div>
<div class="t" style="top:0.64px">Augustin<i style="transform:scaleX(0.915)">241-125</i></div>
</div>
<div class="r" style="top:687.09px">
<div class="d" style="left:4.4px;transform:scaleX(0.9);-webkit-text-stroke-width:0.2px">J</div><div class="n">29</div>
<div class="t" style="top:0.91px">Sabine<i style="transform:scaleX(0.984)">242-124</i></div>
<div class="w" style="color:#c20e1a">35</div>
</div>
<div class="r" style="top:702.82px">
<div class="d" style="left:4.6px;transform:scaleX(0.8);-webkit-text-stroke-width:0.3px">V</div><div class="n">30</div>
<div class="t" style="top:0.18px">Fiacre<i style="transform:scaleX(0.984)">243-123</i></div>
</div>
<div class="r" style="top:718.55px">
<div class="d" style="left:4.6px;transform:scaleX(0.82);-webkit-text-stroke-width:0.2px">S</div><div class="n">31</div>
<div class="t" style="top:0.45px">Aristide<i style="transform:scaleX(0.984)">244-122</i></div>
</div>
<div class="ft" style="left:6px;top:741.9px;color:#c20e1a;transform:scaleX(0.8772)">JOURS OUVRABLES : 26 - JOURS OUVRÉS : 21</div>
</div>
<div class="m" style="left:306.2px;top:0">
<div class="gl" style="left:0;top:704.1px;width:131.7px">35 x 22 mm</div>
<div class="mt" style="top:145.7px;color:#e9b81b;transform:scaleX(0.872)">SEPTEMBRE</div>
<div class="r" style="top:167.7px">
<div class="d x" style="left:4.7px;transform:scaleX(0.7);-webkit-text-stroke-width:0.3px">D</div><div class="n x">1</div>
<div class="t x" style="top:0.3px">Gilles<i style="transform:scaleX(0.915)">245-121</i></div>
</div>
<div class="r" style="top:183.43px">
<div class="d" style="left:4.4px;transform:scaleX(0.85);-webkit-text-stroke-width:0.2px">L</div><div class="n">2</div>
<div class="t" style="top:0.57px">Ingrid<i style="transform:scaleX(0.984)">246-120</i></div>
</div>
<div class="r" style="top:199.16px">
<div class="d" style="left:3.7px;transform:scaleX(0.72);-webkit-text-stroke-width:0.4px">M</div><div class="n">3</div>
<div class="t" style="top:0.84px">Grégoire<i style="transform:scaleX(0.929)">247-119</i></div>
<svg class="mo" style="color:#111"><use href="#mn"/></svg>
</div>
<div class="r" style="top:214.89px">
<div class="d" style="left:3.7px;transform:scaleX(0.72);-webkit-text-stroke-width:0.4px">M</div><div class="n">4</div>
<div class="t" style="top:1.11px">Rosalie<i style="transform:scaleX(0.929)">248-118</i></div>
</div>
<div class="r" style="top:230.62px">
<div class="d" style="left:4.4px;transform:scaleX(0.9);-webkit-text-stroke-width:0.2px">J</div><div class="n">5</div>
<div class="t" style="top:0.38px">Raïssa<i style="transform:scaleX(0.929)">249-117</i></div>
<div class="w" style="color:#e9b81b">36</div>
</div>
<div class="r" style="top:246.35px">
<div class="d" style="left:4.6px;transform:scaleX(0.8);-webkit-text-stroke-width:0.3px">V</div><div class="n">6</div>
<div class="t" style="top:0.65px">Bertrand<i style="transform:scaleX(0.929)">250-116</i></div>
</div>
<div class="r" style="top:262.08px">
<div class="d" style="left:4.6px;transform:scaleX(0.82);-webkit-text-stroke-width:0.2px">S</div><div class="n">7</div>
<div class="t" style="top:0.92px">Reine<i style="transform:scaleX(0.858)">251-115</i></div>
</div>
<div class="r" style="top:277.81px">
<div class="d x" style="left:4.7px;transform:scaleX(0.7);-webkit-text-stroke-width:0.3px">D</div><div class="n x">8</div>
<div class="t x" style="top:0.19px">Nativité N.-D.<i style="transform:scaleX(0.929)">252-114</i></div>
</div>
<div class="r" style="top:293.54px">
<div class="d" style="left:4.4px;transform:scaleX(0.85);-webkit-text-stroke-width:0.2px">L</div><div class="n">9</div>
<div class="t" style="top:0.46px">Alain<i style="transform:scaleX(0.929)">253-113</i></div>
</div>
<div class="r" style="top:309.27px">
<div class="d" style="left:3.7px;transform:scaleX(0.72);-webkit-text-stroke-width:0.4px">M</div><div class="n" style="letter-spacing:-.6px">10</div>
<div class="t" style="top:0.73px">Inès<i style="transform:scaleX(0.929)">254-112</i></div>
</div>
<div class="r" style="top:325px">
<div class="d" style="left:3.7px;transform:scaleX(0.72);-webkit-text-stroke-width:0.4px">M</div><div class="n" style="letter-spacing:-.6px">11</div>
<div class="t" style="top:1px">Adelphe<i style="transform:scaleX(0.872)">255-111</i></div>
<svg class="mo" style="color:#111"><use href="#mf"/></svg>
</div>
<div class="r" style="top:340.73px">
<div class="d" style="left:4.4px;transform:scaleX(0.9);-webkit-text-stroke-width:0.2px">J</div><div class="n" style="letter-spacing:-.6px">12</div>
<div class="t" style="top:0.27px">Apollinaire<i style="transform:scaleX(0.929)">256-110</i></div>
<div class="w" style="color:#e9b81b">37</div>
</div>
<div class="r" style="top:356.46px">
<div class="d" style="left:4.6px;transform:scaleX(0.8);-webkit-text-stroke-width:0.3px">V</div><div class="n" style="letter-spacing:-.6px">13</div>
<div class="t" style="top:0.54px">Aimé<i style="transform:scaleX(0.984)">257-109</i></div>
</div>
<div class="r" style="top:372.19px">
<div class="d" style="left:4.6px;transform:scaleX(0.82);-webkit-text-stroke-width:0.2px">S</div><div class="n" style="letter-spacing:-.6px">14</div>
<div class="t" style="top:0.81px">Croix Glorieuse<i style="transform:scaleX(0.984)">258-108</i></div>
</div>
<div class="r" style="top:387.92px">
<div class="d x" style="left:4.7px;transform:scaleX(0.7);-webkit-text-stroke-width:0.3px">D</div><div class="n x" style="letter-spacing:-.6px">15</div>
<div class="t x" style="top:1.08px">Roland<i style="transform:scaleX(0.984)">259-107</i></div>
</div>
<div class="r" style="top:403.65px">
<div class="d" style="left:4.4px;transform:scaleX(0.85);-webkit-text-stroke-width:0.2px">L</div><div class="n" style="letter-spacing:-.6px">16</div>
<div class="t" style="top:0.35px">Édith<i style="transform:scaleX(0.984)">260-106</i></div>
</div>
<div class="r" style="top:419.38px">
<div class="d" style="left:3.7px;transform:scaleX(0.72);-webkit-text-stroke-width:0.4px">M</div><div class="n" style="letter-spacing:-.6px">17</div>
<div class="t" style="top:0.62px">Renaud<i style="transform:scaleX(0.915)">261-105</i></div>
</div>
<div class="r" style="top:435.11px">
<div class="d" style="left:3.7px;transform:scaleX(0.72);-webkit-text-stroke-width:0.4px">M</div><div class="n" style="letter-spacing:-.6px">18</div>
<div class="t" style="top:0.89px">Nadège<i style="transform:scaleX(0.984)">262-104</i></div>
<svg class="mo" style="color:#111"><use href="#mo"/></svg>
</div>
<div class="r" style="top:450.84px">
<div class="d" style="left:4.4px;transform:scaleX(0.9);-webkit-text-stroke-width:0.2px">J</div><div class="n" style="letter-spacing:-.6px">19</div>
<div class="t" style="top:0.16px">Émilie<i style="transform:scaleX(0.984)">263-103</i></div>
<div class="w" style="color:#e9b81b">38</div>
</div>
<div class="r" style="top:466.57px">
<div class="d" style="left:4.6px;transform:scaleX(0.8);-webkit-text-stroke-width:0.3px">V</div><div class="n">20</div>
<div class="t" style="top:0.43px">Davy<i style="transform:scaleX(0.984)">264-102</i></div>
</div>
<div class="r" style="top:482.3px">
<div class="d" style="left:4.6px;transform:scaleX(0.82);-webkit-text-stroke-width:0.2px">S</div><div class="n">21</div>
<div class="t" style="top:0.7px">Matthieu<i style="transform:scaleX(0.915)">265-101</i></div>
</div>
<div class="r" style="top:498.03px">
<div class="d x" style="left:4.7px;transform:scaleX(0.7);-webkit-text-stroke-width:0.3px">D</div><div class="n x">22</div>
<div class="t x" style="top:0.97px">AUTOMNE<i style="transform:scaleX(0.984)">266-100</i></div>
</div>
<div class="r" style="top:513.76px">
<div class="d" style="left:4.4px;transform:scaleX(0.85);-webkit-text-stroke-width:0.2px">L</div><div class="n">23</div>
<div class="t" style="top:0.24px">Constant<i style="transform:scaleX(1.052)">267-99</i></div>
</div>
<div class="r" style="top:529.49px">
<div class="d" style="left:3.7px;transform:scaleX(0.72);-webkit-text-stroke-width:0.4px">M</div><div class="n">24</div>
<div class="t" style="top:0.51px">Thècle<i style="transform:scaleX(1.052)">268-98</i></div>
<svg class="mo" style="color:#111"><use href="#ml"/></svg>
</div>
<div class="r" style="top:545.22px">
<div class="d" style="left:3.7px;transform:scaleX(0.72);-webkit-text-stroke-width:0.4px">M</div><div class="n">25</div>
<div class="t" style="top:0.78px">Hermann<i style="transform:scaleX(1.052)">269-97</i></div>
</div>
<div class="r" style="top:560.95px">
<div class="d" style="left:4.4px;transform:scaleX(0.9);-webkit-text-stroke-width:0.2px">J</div><div class="n">26</div>
<div class="t" style="top:1.05px">Côme, Damien<i style="transform:scaleX(1.052)">270-96</i></div>
<div class="w" style="color:#e9b81b">39</div>
</div>
<div class="r" style="top:576.68px">
<div class="d" style="left:4.6px;transform:scaleX(0.8);-webkit-text-stroke-width:0.3px">V</div><div class="n">27</div>
<div class="t" style="top:0.32px">Vinc. de Paul<i style="transform:scaleX(0.970)">271-95</i></div>
</div>
<div class="r" style="top:592.41px">
<div class="d" style="left:4.6px;transform:scaleX(0.82);-webkit-text-stroke-width:0.2px">S</div><div class="n">28</div>
<div class="t" style="top:0.59px">Venceslas<i style="transform:scaleX(1.052)">272-94</i></div>
</div>
<div class="r" style="top:608.14px">
<div class="d x" style="left:4.7px;transform:scaleX(0.7);-webkit-text-stroke-width:0.3px">D</div><div class="n x">29</div>
<div class="t x" style="top:0.86px">Michel<i style="transform:scaleX(1.052)">273-93</i></div>
</div>
<div class="r" style="top:623.87px">
<div class="d" style="left:4.4px;transform:scaleX(0.85);-webkit-text-stroke-width:0.2px">L</div><div class="n">30</div>
<div class="t" style="top:0.13px">Jérôme<i style="transform:scaleX(1.052)">274-92</i></div>
</div>
<div class="ft" style="left:6px;top:663px;color:#e9b81b;transform:scaleX(0.8772)">JOURS OUVRABLES : 25 - JOURS OUVRÉS : 21</div>
</div>
<div class="m" style="left:444.15px;top:0">
<div class="gl" style="left:0;top:175px;width:131.7px">35 x 22 mm</div>
<div class="mt" style="top:224.65px;color:#80217d;transform:scaleX(0.8366)">OCTOBRE</div>
<div class="r" style="top:246.65px">
<div class="d" style="left:3.7px;transform:scaleX(0.72);-webkit-text-stroke-width:0.4px">M</div><div class="n">1</div>
<div class="t" style="top:0.35px">Thérèse de l'E.-J.<i style="transform:scaleX(0.970)">275-91</i></div>
</div>
<div class="r" style="top:262.38px">
<div class="d" style="left:3.7px;transform:scaleX(0.72);-webkit-text-stroke-width:0.4px">M</div><div class="n">2</div>
<div class="t" style="top:0.62px">Léger<i style="transform:scaleX(1.052)">276-90</i></div>
<svg class="mo" style="color:#111"><use href="#mn"/></svg>
</div>
<div class="r" style="top:278.11px">
<div class="d" style="left:4.4px;transform:scaleX(0.9);-webkit-text-stroke-width:0.2px">J</div><div class="n">3</div>
<div class="t" style="top:0.89px">Gérard<i style="transform:scaleX(1.052)">277-89</i></div>
<div class="w" style="color:#80217d">40</div>
</div>
<div class="r" style="top:293.84px">
<div class="d" style="left:4.6px;transform:scaleX(0.8);-webkit-text-stroke-width:0.3px">V</div><div class="n">4</div>
<div class="t" style="top:0.16px">François d'Ass.<i style="transform:scaleX(1.052)">278-88</i></div>
</div>
<div class="r" style="top:309.57px">
<div class="d" style="left:4.6px;transform:scaleX(0.82);-webkit-text-stroke-width:0.2px">S</div><div class="n">5</div>
<div class="t" style="top:0.43px">Fleur<i style="transform:scaleX(1.052)">279-87</i></div>
</div>
<div class="r" style="top:325.3px">
<div class="d x" style="left:4.7px;transform:scaleX(0.7);-webkit-text-stroke-width:0.3px">D</div><div class="n x">6</div>
<div class="t x" style="top:0.7px">Bruno<i style="transform:scaleX(1.052)">280-86</i></div>
</div>
<div class="r" style="top:341.03px">
<div class="d" style="left:4.4px;transform:scaleX(0.85);-webkit-text-stroke-width:0.2px">L</div><div class="n">7</div>
<div class="t" style="top:0.97px">Serge<i style="transform:scaleX(0.970)">281-85</i></div>
</div>
<div class="r" style="top:356.76px">
<div class="d" style="left:3.7px;transform:scaleX(0.72);-webkit-text-stroke-width:0.4px">M</div><div class="n">8</div>
<div class="t" style="top:0.24px">Pélagie<i style="transform:scaleX(1.052)">282-84</i></div>
</div>
<div class="r" style="top:372.49px">
<div class="d" style="left:3.7px;transform:scaleX(0.72);-webkit-text-stroke-width:0.4px">M</div><div class="n">9</div>
<div class="t" style="top:0.51px">Denis<i style="transform:scaleX(1.052)">283-83</i></div>
</div>
<div class="r" style="top:388.22px">
<div class="d" style="left:4.4px;transform:scaleX(0.9);-webkit-text-stroke-width:0.2px">J</div><div class="n" style="letter-spacing:-.6px">10</div>
<div class="t" style="top:0.78px">Ghislain<i style="transform:scaleX(1.052)">284-82</i></div>
<svg class="mo" style="color:#111"><use href="#mf"/></svg>
<div class="w" style="color:#80217d">41</div>
</div>
<div class="r" style="top:403.95px">
<div class="d" style="left:4.6px;transform:scaleX(0.8);-webkit-text-stroke-width:0.3px">V</div><div class="n" style="letter-spacing:-.6px">11</div>
<div class="t" style="top:1.05px">Firmin<i style="transform:scaleX(0.970)">285-81</i></div>
</div>
<div class="r" style="top:419.68px">
<div class="d" style="left:4.6px;transform:scaleX(0.82);-webkit-text-stroke-width:0.2px">S</div><div class="n" style="letter-spacing:-.6px">12</div>
<div class="t" style="top:0.32px">Wilfried<i style="transform:scaleX(1.052)">286-80</i></div>
</div>
<div class="r" style="top:435.41px">
<div class="d x" style="left:4.7px;transform:scaleX(0.7);-webkit-text-stroke-width:0.3px">D</div><div class="n x" style="letter-spacing:-.6px">13</div>
<div class="t x" style="top:0.59px">Géraud<i style="transform:scaleX(1.052)">287-79</i></div>
</div>
<div class="r" style="top:451.14px">
<div class="d" style="left:4.4px;transform:scaleX(0.85);-webkit-text-stroke-width:0.2px">L</div><div class="n" style="letter-spacing:-.6px">14</div>
<div class="t" style="top:0.86px">Juste<i style="transform:scaleX(1.052)">288-78</i></div>
</div>
<div class="r" style="top:466.87px">
<div class="d" style="left:3.7px;transform:scaleX(0.72);-webkit-text-stroke-width:0.4px">M</div><div class="n" style="letter-spacing:-.6px">15</div>
<div class="t" style="top:0.13px">Thérèse d'Avila<i style="transform:scaleX(1.052)">289-77</i></div>
</div>
<div class="r" style="top:482.6px">
<div class="d" style="left:3.7px;transform:scaleX(0.72);-webkit-text-stroke-width:0.4px">M</div><div class="n" style="letter-spacing:-.6px">16</div>
<div class="t" style="top:0.4px">Edwige<i style="transform:scaleX(1.052)">290-76</i></div>
</div>
<div class="r" style="top:498.33px">
<div class="d" style="left:4.4px;transform:scaleX(0.9);-webkit-text-stroke-width:0.2px">J</div><div class="n" style="letter-spacing:-.6px">17</div>
<div class="t" style="top:0.67px">Baudouin<i style="transform:scaleX(0.970)">291-75</i></div>
<svg class="mo" style="color:#111"><use href="#mo"/></svg>
<div class="w" style="color:#80217d">42</div>
</div>
<div class="r" style="top:514.06px">
<div class="d" style="left:4.6px;transform:scaleX(0.8);-webkit-text-stroke-width:0.3px">V</div><div class="n" style="letter-spacing:-.6px">18</div>
<div class="t" style="top:0.94px">Luc<i style="transform:scaleX(1.052)">292-74</i></div>
</div>
<div class="r" style="top:529.79px">
<div class="d" style="left:4.6px;transform:scaleX(0.82);-webkit-text-stroke-width:0.2px">S</div><div class="n" style="letter-spacing:-.6px">19</div>
<div class="t" style="top:0.21px">René<i style="transform:scaleX(1.052)">293-73</i></div>
</div>
<div class="r" style="top:545.52px">
<div class="d x" style="left:4.7px;transform:scaleX(0.7);-webkit-text-stroke-width:0.3px">D</div><div class="n x">20</div>
<div class="t x" style="top:0.48px">Adeline<i style="transform:scaleX(1.052)">294-72</i></div>
</div>
<div class="r" style="top:561.25px">
<div class="d" style="left:4.4px;transform:scaleX(0.85);-webkit-text-stroke-width:0.2px">L</div><div class="n">21</div>
<div class="t" style="top:0.75px">Céline<i style="transform:scaleX(0.970)">295-71</i></div>
</div>
<div class="r" style="top:576.98px">
<div class="d" style="left:3.7px;transform:scaleX(0.72);-webkit-text-stroke-width:0.4px">M</div><div class="n">22</div>
<div class="t" style="top:1.02px">Élodie<i style="transform:scaleX(1.052)">296-70</i></div>
</div>
<div class="r" style="top:592.71px">
<div class="d" style="left:3.7px;transform:scaleX(0.72);-webkit-text-stroke-width:0.4px">M</div><div class="n">23</div>
<div class="t" style="top:0.29px">Jean de C.<i style="transform:scaleX(1.052)">297-69</i></div>
</div>
<div class="r" style="top:608.44px">
<div class="d" style="left:4.4px;transform:scaleX(0.9);-webkit-text-stroke-width:0.2px">J</div><div class="n">24</div>
<div class="t" style="top:0.56px">Florentin<i style="transform:scaleX(1.052)">298-68</i></div>
<svg class="mo" style="color:#111"><use href="#ml"/></svg>
<div class="w" style="color:#80217d">43</div>
</div>
<div class="r" style="top:624.17px">
<div class="d" style="left:4.6px;transform:scaleX(0.8);-webkit-text-stroke-width:0.3px">V</div><div class="n">25</div>
<div class="t" style="top:0.83px">Enguerran<i style="transform:scaleX(1.052)">299-67</i></div>
</div>
<div class="r" style="top:639.9px">
<div class="d" style="left:4.6px;transform:scaleX(0.82);-webkit-text-stroke-width:0.2px">S</div><div class="n">26</div>
<div class="t" style="top:1.1px">Dimitri<i style="transform:scaleX(1.052)">300-66</i></div>
</div>
<div class="r" style="top:655.63px">
<div class="d x" style="left:4.7px;transform:scaleX(0.7);-webkit-text-stroke-width:0.3px">D</div><div class="n x">27</div>
<div class="t x" style="top:0.37px">Émeline<i style="transform:scaleX(0.970)">301-65</i></div>
</div>
<div class="r" style="top:671.36px">
<div class="d" style="left:4.4px;transform:scaleX(0.85);-webkit-text-stroke-width:0.2px">L</div><div class="n">28</div>
<div class="t" style="top:0.64px">Simon, Jude<i style="transform:scaleX(1.052)">302-64</i></div>
</div>
<div class="r" style="top:687.09px">
<div class="d" style="left:3.7px;transform:scaleX(0.72);-webkit-text-stroke-width:0.4px">M</div><div class="n">29</div>
<div class="t" style="top:0.91px">Narcisse<i style="transform:scaleX(1.052)">303-63</i></div>
</div>
<div class="r" style="top:702.82px">
<div class="d" style="left:3.7px;transform:scaleX(0.72);-webkit-text-stroke-width:0.4px">M</div><div class="n">30</div>
<div class="t" style="top:0.18px">Bienvenue<i style="transform:scaleX(1.052)">304-62</i></div>
</div>
<div class="r" style="top:718.55px">
<div class="d" style="left:4.4px;transform:scaleX(0.9);-webkit-text-stroke-width:0.2px">J</div><div class="n">31</div>
<div class="t" style="top:0.45px">Quentin<i style="transform:scaleX(0.970)">305-61</i></div>
<div class="w" style="color:#80217d">44</div>
</div>
<div class="ft" style="left:6px;top:741.9px;color:#80217d;transform:scaleX(0.8772)">JOURS OUVRABLES : 27 - JOURS OUVRÉS : 23</div>
</div>
<div class="m" style="left:582.1px;top:0">
<div class="gl" style="left:0;top:704.1px;width:131.7px">35 x 22 mm</div>
<div class="mt" style="top:145.7px;color:#4c4379;transform:scaleX(0.857)">NOVEMBRE</div>
<div class="r" style="top:167.7px">
<div class="d x" style="left:4.6px;transform:scaleX(0.8);-webkit-text-stroke-width:0.3px">V</div><div class="n x">1</div>
<div class="t x" style="top:0.3px">TOUSSAINT<i style="transform:scaleX(1.052)">306-60</i></div>
<svg class="mo" style="color:#fff"><use href="#mn"/></svg>
</div>
<div class="r" style="top:183.43px">
<div class="d" style="left:4.6px;transform:scaleX(0.82);-webkit-text-stroke-width:0.2px">S</div><div class="n">2</div>
<div class="t" style="top:0.57px">Défunts<i style="transform:scaleX(1.052)">307-59</i></div>
</div>
<div class="r" style="top:199.16px">
<div class="d x" style="left:4.7px;transform:scaleX(0.7);-webkit-text-stroke-width:0.3px">D</div><div class="n x">3</div>
<div class="t x" style="top:0.84px">Hubert<i style="transform:scaleX(1.052)">308-58</i></div>
</div>
<div class="r" style="top:214.89px">
<div class="d" style="left:4.4px;transform:scaleX(0.85);-webkit-text-stroke-width:0.2px">L</div><div class="n">4</div>
<div class="t" style="top:1.11px">Charles<i style="transform:scaleX(1.052)">309-57</i></div>
</div>
<div class="r" style="top:230.62px">
<div class="d" style="left:3.7px;transform:scaleX(0.72);-webkit-text-stroke-width:0.4px">M</div><div class="n">5</div>
<div class="t" style="top:0.38px">Sylvie<i style="transform:scaleX(0.970)">310-56</i></div>
</div>
<div class="r" style="top:246.35px">
<div class="d" style="left:3.7px;transform:scaleX(0.72);-webkit-text-stroke-width:0.4px">M</div><div class="n">6</div>
<div class="t" style="top:0.65px">Léonard<i style="transform:scaleX(0.904)">311-55</i></div>
</div>
<div class="r" style="top:262.08px">
<div class="d" style="left:4.4px;transform:scaleX(0.9);-webkit-text-stroke-width:0.2px">J</div><div class="n">7</div>
<div class="t" style="top:0.92px">Carine<i style="transform:scaleX(0.970)">312-54</i></div>
<div class="w" style="color:#4c4379">45</div>
</div>
<div class="r" style="top:277.81px">
<div class="d" style="left:4.6px;transform:scaleX(0.8);-webkit-text-stroke-width:0.3px">V</div><div class="n">8</div>
<div class="t" style="top:0.19px">Geoffroy<i style="transform:scaleX(0.970)">313-53</i></div>
</div>
<div class="r" style="top:293.54px">
<div class="d" style="left:4.6px;transform:scaleX(0.82);-webkit-text-stroke-width:0.2px">S</div><div class="n">9</div>
<div class="t" style="top:0.46px">Théodore<i style="transform:scaleX(0.970)">314-52</i></div>
<svg class="mo" style="color:#111"><use href="#mf"/></svg>
</div>
<div class="r" style="top:309.27px">
<div class="d x" style="left:4.7px;transform:scaleX(0.7);-webkit-text-stroke-width:0.3px">D</div><div class="n x" style="letter-spacing:-.6px">10</div>
<div class="t x" style="top:0.73px">Léon<i style="transform:scaleX(0.888)">315-51</i></div>
</div>
<div class="r" style="top:325px">
<div class="d x" style="left:4.4px;transform:scaleX(0.85);-webkit-text-stroke-width:0.2px">L</div><div class="n x" style="letter-spacing:-.6px">11</div>
<div class="t x" style="top:1px">MORTS POUR LA PATRIE<i style="transform:scaleX(0.970)">316-50</i></div>
</div>
<div class="r" style="top:340.73px">
<div class="d" style="left:3.7px;transform:scaleX(0.72);-webkit-text-stroke-width:0.4px">M</div><div class="n" style="letter-spacing:-.6px">12</div>
<div class="t" style="top:0.27px">Christian<i style="transform:scaleX(0.970)">317-49</i></div>
</div>
<div class="r" style="top:356.46px">
<div class="d" style="left:3.7px;transform:scaleX(0.72);-webkit-text-stroke-width:0.4px">M</div><div class="n" style="letter-spacing:-.6px">13</div>
<div class="t" style="top:0.54px">Brice<i style="transform:scaleX(0.970)">318-48</i></div>
</div>
<div class="r" style="top:372.19px">
<div class="d" style="left:4.4px;transform:scaleX(0.9);-webkit-text-stroke-width:0.2px">J</div><div class="n" style="letter-spacing:-.6px">14</div>
<div class="t" style="top:0.81px">Sidoine<i style="transform:scaleX(0.970)">319-47</i></div>
<div class="w" style="color:#4c4379">46</div>
</div>
<div class="r" style="top:387.92px">
<div class="d" style="left:4.6px;transform:scaleX(0.8);-webkit-text-stroke-width:0.3px">V</div><div class="n" style="letter-spacing:-.6px">15</div>
<div class="t" style="top:1.08px">Albert<i style="transform:scaleX(1.052)">320-46</i></div>
<svg class="mo" style="color:#111"><use href="#mo"/></svg>
</div>
<div class="r" style="top:403.65px">
<div class="d" style="left:4.6px;transform:scaleX(0.82);-webkit-text-stroke-width:0.2px">S</div><div class="n" style="letter-spacing:-.6px">16</div>
<div class="t" style="top:0.35px">Marguerite<i style="transform:scaleX(0.970)">321-45</i></div>
</div>
<div class="r" style="top:419.38px">
<div class="d x" style="left:4.7px;transform:scaleX(0.7);-webkit-text-stroke-width:0.3px">D</div><div class="n x" style="letter-spacing:-.6px">17</div>
<div class="t x" style="top:0.62px">Élisabeth<i style="transform:scaleX(1.052)">322-44</i></div>
</div>
<div class="r" style="top:435.11px">
<div class="d" style="left:4.4px;transform:scaleX(0.85);-webkit-text-stroke-width:0.2px">L</div><div class="n" style="letter-spacing:-.6px">18</div>
<div class="t" style="top:0.89px">Aude<i style="transform:scaleX(1.052)">323-43</i></div>
</div>
<div class="r" style="top:450.84px">
<div class="d" style="left:3.7px;transform:scaleX(0.72);-webkit-text-stroke-width:0.4px">M</div><div class="n" style="letter-spacing:-.6px">19</div>
<div class="t" style="top:0.16px">Tanguy<i style="transform:scaleX(1.052)">324-42</i></div>
</div>
<div class="r" style="top:466.57px">
<div class="d" style="left:3.7px;transform:scaleX(0.72);-webkit-text-stroke-width:0.4px">M</div><div class="n">20</div>
<div class="t" style="top:0.43px">Edmond<i style="transform:scaleX(0.970)">325-41</i></div>
</div>
<div class="r" style="top:482.3px">
<div class="d" style="left:4.4px;transform:scaleX(0.9);-webkit-text-stroke-width:0.2px">J</div><div class="n">21</div>
<div class="t" style="top:0.7px">Prés. de Marie<i style="transform:scaleX(1.052)">326-40</i></div>
<div class="w" style="color:#4c4379">47</div>
</div>
<div class="r" style="top:498.03px">
<div class="d" style="left:4.6px;transform:scaleX(0.8);-webkit-text-stroke-width:0.3px">V</div><div class="n">22</div>
<div class="t" style="top:0.97px">Cécile<i style="transform:scaleX(1.052)">327-39</i></div>
</div>
<div class="r" style="top:513.76px">
<div class="d" style="left:4.6px;transform:scaleX(0.82);-webkit-text-stroke-width:0.2px">S</div><div class="n">23</div>
<div class="t" style="top:0.24px">Clément<i style="transform:scaleX(1.052)">328-38</i></div>
<svg class="mo" style="color:#111"><use href="#ml"/></svg>
</div>
<div class="r" style="top:529.49px">
<div class="d x" style="left:4.7px;transform:scaleX(0.7);-webkit-text-stroke-width:0.3px">D</div><div class="n x">24</div>
<div class="t x" style="top:0.51px">Christ Roi<i style="transform:scaleX(1.052)">329-37</i></div>
</div>
<div class="r" style="top:545.22px">
<div class="d" style="left:4.4px;transform:scaleX(0.85);-webkit-text-stroke-width:0.2px">L</div><div class="n">25</div>
<div class="t" style="top:0.78px">Catherine<i style="transform:scaleX(1.052)">330-36</i></div>
</div>
<div class="r" style="top:560.95px">
<div class="d" style="left:3.7px;transform:scaleX(0.72);-webkit-text-stroke-width:0.4px">M</div><div class="n">26</div>
<div class="t" style="top:1.05px">Delphine<i style="transform:scaleX(0.970)">331-35</i></div>
</div>
<div class="r" style="top:576.68px">
<div class="d" style="left:3.7px;transform:scaleX(0.72);-webkit-text-stroke-width:0.4px">M</div><div class="n">27</div>
<div class="t" style="top:0.32px">Séverin<i style="transform:scaleX(1.052)">332-34</i></div>
</div>
<div class="r" style="top:592.41px">
<div class="d" style="left:4.4px;transform:scaleX(0.9);-webkit-text-stroke-width:0.2px">J</div><div class="n">28</div>
<div class="t" style="top:0.59px">Jacq. de la M.<i style="transform:scaleX(1.052)">333-33</i></div>
<div class="w" style="color:#4c4379">48</div>
</div>
<div class="r" style="top:608.14px">
<div class="d" style="left:4.6px;transform:scaleX(0.8);-webkit-text-stroke-width:0.3px">V</div><div class="n">29</div>
<div class="t" style="top:0.86px">Saturnin<i style="transform:scaleX(1.052)">334-32</i></div>
</div>
<div class="r" style="top:623.87px">
<div class="d" style="left:4.6px;transform:scaleX(0.82);-webkit-text-stroke-width:0.2px">S</div><div class="n">30</div>
<div class="t" style="top:0.13px">André<i style="transform:scaleX(0.970)">335-31</i></div>
</div>
<div class="ft" style="left:6px;top:663px;color:#4c4379;transform:scaleX(0.8772)">JOURS OUVRABLES : 24 - JOURS OUVRÉS : 19</div>
</div>
<div class="m" style="left:720.05px;top:0">
<div class="gl" style="left:0;top:175px;width:131.7px">35 x 22 mm</div>
<div class="mt" style="top:224.65px;color:#2e9384;transform:scaleX(0.8505)">DÉCEMBRE</div>
<div class="r" style="top:246.65px">
<div class="d x" style="left:4.7px;transform:scaleX(0.7);-webkit-text-stroke-width:0.3px">D</div><div class="n x">1</div>
<div class="t x" style="top:0.35px">Avent<i style="transform:scaleX(1.052)">336-30</i></div>
<svg class="mo" style="color:#fff"><use href="#mn"/></svg>
</div>
<div class="r" style="top:262.38px">
<div class="d" style="left:4.4px;transform:scaleX(0.85);-webkit-text-stroke-width:0.2px">L</div><div class="n">2</div>
<div class="t" style="top:0.62px">Viviane<i style="transform:scaleX(1.052)">337-29</i></div>
</div>
<div class="r" style="top:278.11px">
<div class="d" style="left:3.7px;transform:scaleX(0.72);-webkit-text-stroke-width:0.4px">M</div><div class="n">3</div>
<div class="t" style="top:0.89px">François Xav.<i style="transform:scaleX(1.052)">338-28</i></div>
</div>
<div class="r" style="top:293.84px">
<div class="d" style="left:3.7px;transform:scaleX(0.72);-webkit-text-stroke-width:0.4px">M</div><div class="n">4</div>
<div class="t" style="top:0.16px">Barbara<i style="transform:scaleX(1.052)">339-27</i></div>
</div>
<div class="r" style="top:309.57px">
<div class="d" style="left:4.4px;transform:scaleX(0.9);-webkit-text-stroke-width:0.2px">J</div><div class="n">5</div>
<div class="t" style="top:0.43px">Gérald<i style="transform:scaleX(1.052)">340-26</i></div>
<div class="w" style="color:#2e9384">49</div>
</div>
<div class="r" style="top:325.3px">
<div class="d" style="left:4.6px;transform:scaleX(0.8);-webkit-text-stroke-width:0.3px">V</div><div class="n">6</div>
<div class="t" style="top:0.7px">Nicolas<i style="transform:scaleX(0.970)">341-25</i></div>
</div>
<div class="r" style="top:341.03px">
<div class="d" style="left:4.6px;transform:scaleX(0.82);-webkit-text-stroke-width:0.2px">S</div><div class="n">7</div>
<div class="t" style="top:0.97px">Ambroise<i style="transform:scaleX(1.052)">342-24</i></div>
</div>
<div class="r" style="top:356.76px">
<div class="d x" style="left:4.7px;transform:scaleX(0.7);-webkit-text-stroke-width:0.3px">D</div><div class="n x">8</div>
<div class="t x" style="top:0.24px">Elfried<i style="transform:scaleX(1.052)">343-23</i></div>
<svg class="mo" style="color:#fff"><use href="#mf"/></svg>
</div>
<div class="r" style="top:372.49px">
<div class="d" style="left:4.4px;transform:scaleX(0.85);-webkit-text-stroke-width:0.2px">L</div><div class="n">9</div>
<div class="t" style="top:0.51px">Imm. Conception<i style="transform:scaleX(1.052)">344-22</i></div>
</div>
<div class="r" style="top:388.22px">
<div class="d" style="left:3.7px;transform:scaleX(0.72);-webkit-text-stroke-width:0.4px">M</div><div class="n" style="letter-spacing:-.6px">10</div>
<div class="t" style="top:0.78px">Romaric<i style="transform:scaleX(0.970)">345-21</i></div>
</div>
<div class="r" style="top:403.95px">
<div class="d" style="left:3.7px;transform:scaleX(0.72);-webkit-text-stroke-width:0.4px">M</div><div class="n" style="letter-spacing:-.6px">11</div>
<div class="t" style="top:1.05px">Daniel<i style="transform:scaleX(1.052)">346-20</i></div>
</div>
<div class="r" style="top:419.68px">
<div class="d" style="left:4.4px;transform:scaleX(0.9);-webkit-text-stroke-width:0.2px">J</div><div class="n" style="letter-spacing:-.6px">12</div>
<div class="t" style="top:0.32px">Corentin<i style="transform:scaleX(0.970)">347-19</i></div>
<div class="w" style="color:#2e9384">50</div>
</div>
<div class="r" style="top:435.41px">
<div class="d" style="left:4.6px;transform:scaleX(0.8);-webkit-text-stroke-width:0.3px">V</div><div class="n" style="letter-spacing:-.6px">13</div>
<div class="t" style="top:0.59px">Lucie<i style="transform:scaleX(0.970)">348-18</i></div>
</div>
<div class="r" style="top:451.14px">
<div class="d" style="left:4.6px;transform:scaleX(0.82);-webkit-text-stroke-width:0.2px">S</div><div class="n" style="letter-spacing:-.6px">14</div>
<div class="t" style="top:0.86px">Odile<i style="transform:scaleX(0.970)">349-17</i></div>
</div>
<div class="r" style="top:466.87px">
<div class="d x" style="left:4.7px;transform:scaleX(0.7);-webkit-text-stroke-width:0.3px">D</div><div class="n x" style="letter-spacing:-.6px">15</div>
<div class="t x" style="top:0.13px">Ninon<i style="transform:scaleX(0.970)">350-16</i></div>
<svg class="mo" style="color:#fff"><use href="#mo"/></svg>
</div>
<div class="r" style="top:482.6px">
<div class="d" style="left:4.4px;transform:scaleX(0.85);-webkit-text-stroke-width:0.2px">L</div><div class="n" style="letter-spacing:-.6px">16</div>
<div class="t" style="top:0.4px">Alice<i style="transform:scaleX(0.888)">351-15</i></div>
</div>
<div class="r" style="top:498.33px">
<div class="d" style="left:3.7px;transform:scaleX(0.72);-webkit-text-stroke-width:0.4px">M</div><div class="n" style="letter-spacing:-.6px">17</div>
<div class="t" style="top:0.67px">Judicaël, Gaël<i style="transform:scaleX(0.970)">352-14</i></div>
</div>
<div class="r" style="top:514.06px">
<div class="d" style="left:3.7px;transform:scaleX(0.72);-webkit-text-stroke-width:0.4px">M</div><div class="n" style="letter-spacing:-.6px">18</div>
<div class="t" style="top:0.94px">Gatien<i style="transform:scaleX(0.970)">353-13</i></div>
</div>
<div class="r" style="top:529.79px">
<div class="d" style="left:4.4px;transform:scaleX(0.9);-webkit-text-stroke-width:0.2px">J</div><div class="n" style="letter-spacing:-.6px">19</div>
<div class="t" style="top:0.21px">Urbain<i style="transform:scaleX(0.970)">354-12</i></div>
<div class="w" style="color:#2e9384">51</div>
</div>
<div class="r" style="top:545.52px">
<div class="d" style="left:4.6px;transform:scaleX(0.8);-webkit-text-stroke-width:0.3px">V</div><div class="n">20</div>
<div class="t" style="top:0.48px">Théophile<i style="transform:scaleX(0.904)">355-11</i></div>
</div>
<div class="r" style="top:561.25px">
<div class="d" style="left:4.6px;transform:scaleX(0.82);-webkit-text-stroke-width:0.2px">S</div><div class="n">21</div>
<div class="t" style="top:0.75px">HIVER<i style="transform:scaleX(0.970)">356-10</i></div>
</div>
<div class="r" style="top:576.98px">
<div class="d x" style="left:4.7px;transform:scaleX(0.7);-webkit-text-stroke-width:0.3px">D</div><div class="n x">22</div>
<div class="t x" style="top:1.02px">Françoise Xav.<i style="transform:scaleX(1.049)">357-9</i></div>
<svg class="mo" style="color:#fff"><use href="#ml"/></svg>
</div>
<div class="r" style="top:592.71px">
<div class="d" style="left:4.4px;transform:scaleX(0.85);-webkit-text-stroke-width:0.2px">L</div><div class="n">23</div>
<div class="t" style="top:0.29px">Armand<i style="transform:scaleX(1.049)">358-8</i></div>
</div>
<div class="r" style="top:608.44px">
<div class="d" style="left:3.7px;transform:scaleX(0.72);-webkit-text-stroke-width:0.4px">M</div><div class="n">24</div>
<div class="t" style="top:0.56px">Adèle<i style="transform:scaleX(1.049)">359-7</i></div>
</div>
<div class="r" style="top:624.17px">
<div class="d x" style="left:3.7px;transform:scaleX(0.72);-webkit-text-stroke-width:0.4px">M</div><div class="n x">25</div>
<div class="t x" style="top:0.83px">NOËL<i style="transform:scaleX(1.049)">360-6</i></div>
</div>
<div class="r" style="top:639.9px">
<div class="d" style="left:4.4px;transform:scaleX(0.9);-webkit-text-stroke-width:0.2px">J</div><div class="n">26</div>
<div class="t" style="top:1.1px">Étienne<i style="transform:scaleX(0.949)">361-5</i></div>
<div class="w" style="color:#2e9384">52</div>
</div>
<div class="r" style="top:655.63px">
<div class="d" style="left:4.6px;transform:scaleX(0.8);-webkit-text-stroke-width:0.3px">V</div><div class="n">27</div>
<div class="t" style="top:0.37px">Jean<i style="transform:scaleX(1.049)">362-4</i></div>
</div>
<div class="r" style="top:671.36px">
<div class="d" style="left:4.6px;transform:scaleX(0.82);-webkit-text-stroke-width:0.2px">S</div><div class="n">28</div>
<div class="t" style="top:0.64px">Innocents<i style="transform:scaleX(1.049)">363-3</i></div>
</div>
<div class="r" style="top:687.09px">
<div class="d x" style="left:4.7px;transform:scaleX(0.7);-webkit-text-stroke-width:0.3px">D</div><div class="n x">29</div>
<div class="t x" style="top:0.91px">Sainte Famille<i style="transform:scaleX(1.049)">364-2</i></div>
</div>
<div class="r" style="top:702.82px">
<div class="d" style="left:4.4px;transform:scaleX(0.85);-webkit-text-stroke-width:0.2px">L</div><div class="n">30</div>
<div class="t" style="top:0.18px">Roger<i style="transform:scaleX(0.949)">365-1</i></div>
<svg class="mo" style="color:#111"><use href="#mn"/></svg>
</div>
<div class="r" style="top:718.55px">
<div class="d" style="left:3.7px;transform:scaleX(0.72);-webkit-text-stroke-width:0.4px">M</div><div class="n">31</div>
<div class="t" style="top:0.45px">Sylvestre<i style="transform:scaleX(1.049)">366-0</i></div>
</div>
<div class="ft" style="left:6px;top:741.9px;color:#2e9384;transform:scaleX(0.8772)">JOURS OUVRABLES : 25 - JOURS OUVRÉS : 21</div>
</div>
<div class="m" style="left:858px;top:0">
<div class="gl" style="left:0;top:704.1px;width:131.7px">35 x 22 mm</div>
<div class="mt" style="top:146.7px;color:#64aacb;transform:scaleX(0.93)">JANVIER 2025</div>
<div class="r" style="top:167.7px">
<div class="d x" style="left:3.7px;transform:scaleX(0.72);-webkit-text-stroke-width:0.4px">M</div><div class="n x">1</div>
<div class="t x" style="top:0.3px">JOUR DE L'AN<i style="transform:scaleX(0.949)">1-364</i></div>
</div>
<div class="r" style="top:183.43px">
<div class="d" style="left:4.4px;transform:scaleX(0.9);-webkit-text-stroke-width:0.2px">J</div><div class="n">2</div>
<div class="t" style="top:0.57px">Basile<i style="transform:scaleX(1.049)">2-363</i></div>
<div class="w" style="color:#64aacb">1</div>
</div>
<div class="r" style="top:199.16px">
<div class="d" style="left:4.6px;transform:scaleX(0.8);-webkit-text-stroke-width:0.3px">V</div><div class="n">3</div>
<div class="t" style="top:0.84px">Geneviève<i style="transform:scaleX(1.049)">3-362</i></div>
</div>
<div class="r" style="top:214.89px">
<div class="d" style="left:4.6px;transform:scaleX(0.82);-webkit-text-stroke-width:0.2px">S</div><div class="n">4</div>
<div class="t" style="top:1.11px">Odilon<i style="transform:scaleX(0.949)">4-361</i></div>
</div>
<div class="r" style="top:230.62px">
<div class="d x" style="left:4.7px;transform:scaleX(0.7);-webkit-text-stroke-width:0.3px">D</div><div class="n x">5</div>
<div class="t x" style="top:0.38px">Épiphanie<i style="transform:scaleX(1.049)">5-360</i></div>
</div>
<div class="r" style="top:246.35px">
<div class="d" style="left:4.4px;transform:scaleX(0.85);-webkit-text-stroke-width:0.2px">L</div><div class="n">6</div>
<div class="t" style="top:0.65px">Melaine<i style="transform:scaleX(1.049)">6-359</i></div>
<svg class="mo" style="color:#111"><use href="#mf"/></svg>
</div>
<div class="r" style="top:262.08px">
<div class="d" style="left:3.7px;transform:scaleX(0.72);-webkit-text-stroke-width:0.4px">M</div><div class="n">7</div>
<div class="t" style="top:0.92px">Raymond<i style="transform:scaleX(1.049)">7-358</i></div>
</div>
<div class="r" style="top:277.81px">
<div class="d" style="left:3.7px;transform:scaleX(0.72);-webkit-text-stroke-width:0.4px">M</div><div class="n">8</div>
<div class="t" style="top:0.19px">Lucien<i style="transform:scaleX(1.049)">8-357</i></div>
</div>
<div class="r" style="top:293.54px">
<div class="d" style="left:4.4px;transform:scaleX(0.9);-webkit-text-stroke-width:0.2px">J</div><div class="n">9</div>
<div class="t" style="top:0.46px">Alix<i style="transform:scaleX(1.049)">9-356</i></div>
<div class="w" style="color:#64aacb">2</div>
</div>
<div class="r" style="top:309.27px">
<div class="d" style="left:4.6px;transform:scaleX(0.8);-webkit-text-stroke-width:0.3px">V</div><div class="n" style="letter-spacing:-.6px">10</div>
<div class="t" style="top:0.73px">Guillaume<i style="transform:scaleX(0.970)">10-355</i></div>
</div>
<div class="r" style="top:325px">
<div class="d" style="left:4.6px;transform:scaleX(0.82);-webkit-text-stroke-width:0.2px">S</div><div class="n" style="letter-spacing:-.6px">11</div>
<div class="t" style="top:1px">Paulin<i style="transform:scaleX(0.904)">11-354</i></div>
</div>
<div class="r" style="top:340.73px">
<div class="d x" style="left:4.7px;transform:scaleX(0.7);-webkit-text-stroke-width:0.3px">D</div><div class="n x" style="letter-spacing:-.6px">12</div>
<div class="t x" style="top:0.27px">Tatiana<i style="transform:scaleX(0.970)">12-353</i></div>
</div>
<div class="r" style="top:356.46px">
<div class="d" style="left:4.4px;transform:scaleX(0.85);-webkit-text-stroke-width:0.2px">L</div><div class="n" style="letter-spacing:-.6px">13</div>
<div class="t" style="top:0.54px">Yvette<i style="transform:scaleX(0.970)">13-352</i></div>
<svg class="mo" style="color:#111"><use href="#mo"/></svg>
</div>
<div class="r" style="top:372.19px">
<div class="d" style="left:3.7px;transform:scaleX(0.72);-webkit-text-stroke-width:0.4px">M</div><div class="n" style="letter-spacing:-.6px">14</div>
<div class="t" style="top:0.81px">Nina<i style="transform:scaleX(0.888)">14-351</i></div>
</div>
<div class="r" style="top:387.92px">
<div class="d" style="left:3.7px;transform:scaleX(0.72);-webkit-text-stroke-width:0.4px">M</div><div class="n" style="letter-spacing:-.6px">15</div>
<div class="t" style="top:1.08px">Rémi<i style="transform:scaleX(0.970)">15-350</i></div>
</div>
<div class="r" style="top:403.65px">
<div class="d" style="left:4.4px;transform:scaleX(0.9);-webkit-text-stroke-width:0.2px">J</div><div class="n" style="letter-spacing:-.6px">16</div>
<div class="t" style="top:0.35px">Marcel<i style="transform:scaleX(0.970)">16-349</i></div>
<div class="w" style="color:#64aacb">3</div>
</div>
<div class="r" style="top:419.38px">
<div class="d" style="left:4.6px;transform:scaleX(0.8);-webkit-text-stroke-width:0.3px">V</div><div class="n" style="letter-spacing:-.6px">17</div>
<div class="t" style="top:0.62px">Roseline<i style="transform:scaleX(0.970)">17-348</i></div>
</div>
<div class="r" style="top:435.11px">
<div class="d" style="left:4.6px;transform:scaleX(0.82);-webkit-text-stroke-width:0.2px">S</div><div class="n" style="letter-spacing:-.6px">18</div>
<div class="t" style="top:0.89px">Prisca<i style="transform:scaleX(0.970)">18-347</i></div>
</div>
<div class="r" style="top:450.84px">
<div class="d x" style="left:4.7px;transform:scaleX(0.7);-webkit-text-stroke-width:0.3px">D</div><div class="n x" style="letter-spacing:-.6px">19</div>
<div class="t x" style="top:0.16px">Marius<i style="transform:scaleX(0.970)">19-346</i></div>
</div>
<div class="r" style="top:466.57px">
<div class="d" style="left:4.4px;transform:scaleX(0.85);-webkit-text-stroke-width:0.2px">L</div><div class="n">20</div>
<div class="t" style="top:0.43px">Sébastien<i style="transform:scaleX(1.052)">20-345</i></div>
</div>
<div class="r" style="top:482.3px">
<div class="d" style="left:3.7px;transform:scaleX(0.72);-webkit-text-stroke-width:0.4px">M</div><div class="n">21</div>
<div class="t" style="top:0.7px">Agnès<i style="transform:scaleX(0.970)">21-344</i></div>
<svg class="mo" style="color:#111"><use href="#ml"/></svg>
</div>
<div class="r" style="top:498.03px">
<div class="d" style="left:3.7px;transform:scaleX(0.72);-webkit-text-stroke-width:0.4px">M</div><div class="n">22</div>
<div class="t" style="top:0.97px">Vincent<i style="transform:scaleX(1.052)">22-343</i></div>
</div>
<div class="r" style="top:513.76px">
<div class="d" style="left:4.4px;transform:scaleX(0.9);-webkit-text-stroke-width:0.2px">J</div><div class="n">23</div>
<div class="t" style="top:0.24px">Barnard<i style="transform:scaleX(1.052)">23-342</i></div>
<div class="w" style="color:#64aacb">4</div>
</div>
<div class="r" style="top:529.49px">
<div class="d" style="left:4.6px;transform:scaleX(0.8);-webkit-text-stroke-width:0.3px">V</div><div class="n">24</div>
<div class="t" style="top:0.51px">Fr. de Sales<i style="transform:scaleX(0.970)">24-341</i></div>
</div>
<div class="r" style="top:545.22px">
<div class="d" style="left:4.6px;transform:scaleX(0.82);-webkit-text-stroke-width:0.2px">S</div><div class="n">25</div>
<div class="t" style="top:0.78px">Conv. St Paul<i style="transform:scaleX(1.052)">25-340</i></div>
</div>
<div class="r" style="top:560.95px">
<div class="d x" style="left:4.7px;transform:scaleX(0.7);-webkit-text-stroke-width:0.3px">D</div><div class="n x">26</div>
<div class="t x" style="top:1.05px">Paule<i style="transform:scaleX(1.052)">26-339</i></div>
</div>
<div class="r" style="top:576.68px">
<div class="d" style="left:4.4px;transform:scaleX(0.85);-webkit-text-stroke-width:0.2px">L</div><div class="n">27</div>
<div class="t" style="top:0.32px">Angèle<i style="transform:scaleX(1.052)">27-338</i></div>
</div>
<div class="r" style="top:592.41px">
<div class="d" style="left:3.7px;transform:scaleX(0.72);-webkit-text-stroke-width:0.4px">M</div><div class="n">28</div>
<div class="t" style="top:0.59px">Thomas d'Aquin<i style="transform:scaleX(1.052)">28-337</i></div>
</div>
<div class="r" style="top:608.14px">
<div class="d" style="left:3.7px;transform:scaleX(0.72);-webkit-text-stroke-width:0.4px">M</div><div class="n">29</div>
<div class="t" style="top:0.86px">Gildas<i style="transform:scaleX(1.052)">29-336</i></div>
<svg class="mo" style="color:#111"><use href="#mn"/></svg>
</div>
<div class="r" style="top:623.87px">
<div class="d" style="left:4.4px;transform:scaleX(0.9);-webkit-text-stroke-width:0.2px">J</div><div class="n">30</div>
<div class="t" style="top:0.13px">Martine<i style="transform:scaleX(1.052)">30-335</i></div>
<div class="w" style="color:#64aacb">5</div>
</div>
<div class="r" style="top:639.6px">
<div class="d" style="left:4.6px;transform:scaleX(0.8);-webkit-text-stroke-width:0.3px">V</div><div class="n">31</div>
<div class="t" style="top:0.4px">Marcelle<i style="transform:scaleX(0.970)">31-334</i></div>
</div>
<div class="ft" style="left:6px;top:663px;color:#64aacb;transform:scaleX(0.8772)">JOURS OUVRABLES : 26 - JOURS OUVRÉS : 22</div>
</div>
<div style="position:absolute;left:523.4px;top:653.1px;width:24px;height:5.2px;border:.6px solid #222;border-radius:2.6px;background:#fff"></div>
<div style="position:absolute;left:525px;top:653.6px;font-size:2.6px;line-height:4px;font-weight:bold;white-space:nowrap;color:#111;letter-spacing:.1px">HEURE D'HIVER</div>
<div style="position:absolute;left:545.2px;top:648.2px;width:14px;height:14px;border:.8px solid #222;border-radius:50%;background:#fff"></div>
<div style="position:absolute;left:545.2px;top:650.4px;width:14px;text-align:center;font-size:7.5px;line-height:10px;font-style:italic;font-weight:bold;color:#111;white-space:nowrap;letter-spacing:-.3px">-1<span style="font-size:5.5px">H</span></div>
<div style="position:absolute;left:586.5px;top:643.7px;font-size:11.4px;line-height:12px;white-space:nowrap;color:#333;letter-spacing:-.4px">LAVI<span style="color:#e2532d">G</span>NE</div>
<div style="position:absolute;left:635px;top:651.2px;width:2px;height:2px;background:#111"></div>
<div style="position:absolute;left:638.8px;top:643.6px;font-size:8.6px;line-height:12px;font-weight:bold;white-space:nowrap;color:#111;letter-spacing:.2px;transform-origin:0 0;transform:scaleX(.875)">lavigne-eprint.com</div>
<div style="position:absolute;left:597px;top:655px;width:100px;text-align:center;font-size:3.6px;line-height:6px;font-weight:bold;white-space:nowrap;color:#111">Fabrication française</div>
<div style="position:absolute;left:105.4px;top:751.8px;font-size:6.4px;line-height:8px;white-space:pre;transform-origin:0 0;transform:scaleX(0.8798);color:#111;font-weight:bold;-webkit-text-stroke:.1px #111">VACANCES SCOLAIRES • </div>
<div style="position:absolute;left:176.1px;top:751.8px;font-size:6.4px;line-height:8px;white-space:pre;transform-origin:0 0;transform:scaleX(0.8676);color:#dc714b;font-weight:bold;-webkit-text-stroke:.1px #dc714b">ZONE A : </div>
<div style="position:absolute;left:201.6px;top:751.8px;font-size:6.4px;line-height:8px;white-space:pre;transform-origin:0 0;transform:scaleX(0.9659);color:#dc714b;font-weight:normal;-webkit-text-stroke:.15px #dc714b">Besançon, Bordeaux, Clermont-Ferrand, Dijon, Grenoble, Limoges, Lyon, Poitiers. </div>
<div style="position:absolute;left:428.5px;top:751.8px;font-size:6.4px;line-height:8px;white-space:pre;transform-origin:0 0;transform:scaleX(0.8639);color:#5b92d4;font-weight:bold;-webkit-text-stroke:.1px #5b92d4">ZONE B : </div>
<div style="position:absolute;left:454.3px;top:751.8px;font-size:6.4px;line-height:8px;white-space:pre;transform-origin:0 0;transform:scaleX(0.9622);color:#5b92d4;font-weight:normal;-webkit-text-stroke:.15px #5b92d4">Aix-Marseille, Amiens, Lille, Nancy-Metz, Nantes, Nice, Normandie, Orléans-Tours, Reims, Rennes, Strasbourg. </div>
<div style="position:absolute;left:760.6px;top:751.8px;font-size:6.4px;line-height:8px;white-space:pre;transform-origin:0 0;transform:scaleX(0.8538);color:#a3bd2f;font-weight:bold;-webkit-text-stroke:.1px #a3bd2f">ZONE C : </div>
<div style="position:absolute;left:786.1px;top:751.8px;font-size:6.4px;line-height:8px;white-space:pre;transform-origin:0 0;transform:scaleX(0.9735);color:#a3bd2f;font-weight:normal;-webkit-text-stroke:.15px #a3bd2f">Créteil, Montpellier, Paris, Toulouse, Versailles.</div>
</div></body></html>
